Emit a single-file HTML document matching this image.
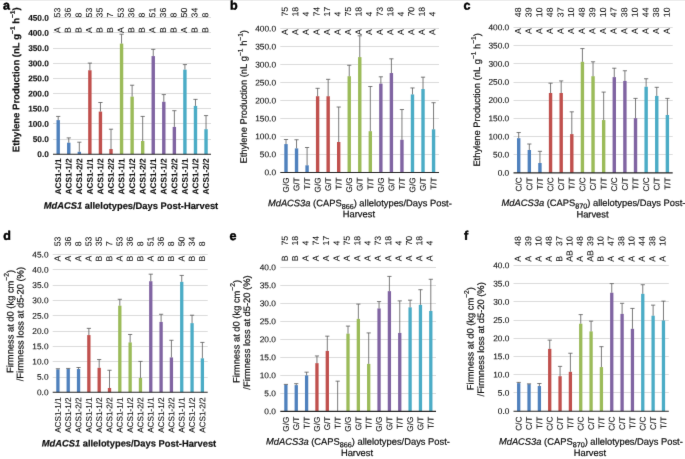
<!DOCTYPE html>
<html><head><meta charset="utf-8"><style>
html,body{margin:0;padding:0;background:#fff;}
svg{display:block;}
text{font-family:"Liberation Sans",sans-serif;font-kerning:none;text-rendering:geometricPrecision;white-space:pre;}
</style></head><body>
<svg width="685" height="459" viewBox="0 0 685 459">

<filter id="bl" x="0" y="0" width="1" height="1" color-interpolation-filters="sRGB"><feConvolveMatrix order="3" kernelMatrix="0.0052 0.0619 0.0052 0.0619 0.7314 0.0619 0.0052 0.0619 0.0052" edgeMode="duplicate" preserveAlpha="true"/></filter>
<g filter="url(#bl)">
<rect width="685" height="459" fill="#fff"/>
<line x1="53" y1="139.5" x2="211" y2="139.5" stroke="#dcdcdc" stroke-width="1"/>
<line x1="53" y1="123.5" x2="211" y2="123.5" stroke="#dcdcdc" stroke-width="1"/>
<line x1="53" y1="108.5" x2="211" y2="108.5" stroke="#dcdcdc" stroke-width="1"/>
<line x1="53" y1="93.5" x2="211" y2="93.5" stroke="#dcdcdc" stroke-width="1"/>
<line x1="53" y1="78.5" x2="211" y2="78.5" stroke="#dcdcdc" stroke-width="1"/>
<line x1="53" y1="63.5" x2="211" y2="63.5" stroke="#dcdcdc" stroke-width="1"/>
<line x1="53" y1="48.5" x2="211" y2="48.5" stroke="#dcdcdc" stroke-width="1"/>
<line x1="53" y1="32.5" x2="211" y2="32.5" stroke="#dcdcdc" stroke-width="1"/>
<line x1="53" y1="17.5" x2="211" y2="17.5" stroke="#dcdcdc" stroke-width="1"/>
<rect x="56.5" y="120.11" width="3.4" height="34.09" fill="#4F81BD"/>
<line x1="58.2" y1="120.11" x2="58.2" y2="116.42" stroke="#5a5a5a" stroke-width="0.8"/>
<line x1="56.1" y1="116.42" x2="60.3" y2="116.42" stroke="#5a5a5a" stroke-width="0.8"/>
<rect x="67.06" y="142.69" width="3.4" height="11.51" fill="#4F81BD"/>
<line x1="68.76" y1="142.69" x2="68.76" y2="137.9" stroke="#5a5a5a" stroke-width="0.8"/>
<line x1="66.66" y1="137.9" x2="70.86" y2="137.9" stroke="#5a5a5a" stroke-width="0.8"/>
<rect x="77.62" y="151.78" width="3.4" height="2.42" fill="#4F81BD"/>
<line x1="79.32" y1="151.78" x2="79.32" y2="142.2" stroke="#5a5a5a" stroke-width="0.8"/>
<line x1="77.22" y1="142.2" x2="81.42" y2="142.2" stroke="#5a5a5a" stroke-width="0.8"/>
<rect x="88.18" y="70.27" width="3.4" height="83.93" fill="#C0504D"/>
<line x1="89.88" y1="70.27" x2="89.88" y2="63.09" stroke="#5a5a5a" stroke-width="0.8"/>
<line x1="87.78" y1="63.09" x2="91.98" y2="63.09" stroke="#5a5a5a" stroke-width="0.8"/>
<rect x="98.74" y="111.6" width="3.4" height="42.6" fill="#C0504D"/>
<line x1="100.44" y1="111.6" x2="100.44" y2="102.51" stroke="#5a5a5a" stroke-width="0.8"/>
<line x1="98.34" y1="102.51" x2="102.54" y2="102.51" stroke="#5a5a5a" stroke-width="0.8"/>
<rect x="109.3" y="149.05" width="3.4" height="5.15" fill="#C0504D"/>
<line x1="111" y1="149.05" x2="111" y2="129.2" stroke="#5a5a5a" stroke-width="0.8"/>
<line x1="108.9" y1="129.2" x2="113.1" y2="129.2" stroke="#5a5a5a" stroke-width="0.8"/>
<rect x="119.86" y="43.6" width="3.4" height="110.59" fill="#9BBB59"/>
<line x1="121.56" y1="43.6" x2="121.56" y2="34.21" stroke="#5a5a5a" stroke-width="0.8"/>
<line x1="119.46" y1="34.21" x2="123.66" y2="34.21" stroke="#5a5a5a" stroke-width="0.8"/>
<rect x="130.42" y="96.63" width="3.4" height="57.57" fill="#9BBB59"/>
<line x1="132.12" y1="96.63" x2="132.12" y2="85.21" stroke="#5a5a5a" stroke-width="0.8"/>
<line x1="130.02" y1="85.21" x2="134.22" y2="85.21" stroke="#5a5a5a" stroke-width="0.8"/>
<rect x="140.98" y="140.99" width="3.4" height="13.21" fill="#9BBB59"/>
<line x1="142.68" y1="140.99" x2="142.68" y2="116.42" stroke="#5a5a5a" stroke-width="0.8"/>
<line x1="140.58" y1="116.42" x2="144.78" y2="116.42" stroke="#5a5a5a" stroke-width="0.8"/>
<rect x="151.54" y="56.09" width="3.4" height="98.11" fill="#8064A2"/>
<line x1="153.24" y1="56.09" x2="153.24" y2="49.36" stroke="#5a5a5a" stroke-width="0.8"/>
<line x1="151.14" y1="49.36" x2="155.34" y2="49.36" stroke="#5a5a5a" stroke-width="0.8"/>
<rect x="162.1" y="101.78" width="3.4" height="52.42" fill="#8064A2"/>
<line x1="163.8" y1="101.78" x2="163.8" y2="94.6" stroke="#5a5a5a" stroke-width="0.8"/>
<line x1="161.7" y1="94.6" x2="165.9" y2="94.6" stroke="#5a5a5a" stroke-width="0.8"/>
<rect x="172.66" y="126.93" width="3.4" height="27.27" fill="#8064A2"/>
<line x1="174.36" y1="126.93" x2="174.36" y2="110.69" stroke="#5a5a5a" stroke-width="0.8"/>
<line x1="172.26" y1="110.69" x2="176.46" y2="110.69" stroke="#5a5a5a" stroke-width="0.8"/>
<rect x="183.22" y="69.66" width="3.4" height="84.54" fill="#4BACC6"/>
<line x1="184.92" y1="69.66" x2="184.92" y2="64.6" stroke="#5a5a5a" stroke-width="0.8"/>
<line x1="182.82" y1="64.6" x2="187.02" y2="64.6" stroke="#5a5a5a" stroke-width="0.8"/>
<rect x="193.78" y="105.9" width="3.4" height="48.3" fill="#4BACC6"/>
<line x1="195.48" y1="105.9" x2="195.48" y2="99.36" stroke="#5a5a5a" stroke-width="0.8"/>
<line x1="193.38" y1="99.36" x2="197.58" y2="99.36" stroke="#5a5a5a" stroke-width="0.8"/>
<rect x="204.34" y="129.2" width="3.4" height="25" fill="#4BACC6"/>
<line x1="206.04" y1="129.2" x2="206.04" y2="115.6" stroke="#5a5a5a" stroke-width="0.8"/>
<line x1="203.94" y1="115.6" x2="208.14" y2="115.6" stroke="#5a5a5a" stroke-width="0.8"/>
<line x1="53" y1="154.2" x2="211" y2="154.2" stroke="#262626" stroke-width="1.1"/>
<text transform="translate(48.90,157.06) rotate(0.05)" x="-11.54" font-size="8.3" font-weight="bold" fill="#111111" stroke="#111111" stroke-width="0.1" stroke-linejoin="round">0.0</text>
<text transform="translate(48.90,141.91) rotate(0.05)" x="-16.15" font-size="8.3" font-weight="bold" fill="#111111" stroke="#111111" stroke-width="0.1" stroke-linejoin="round">50.0</text>
<text transform="translate(48.90,126.76) rotate(0.05)" x="-20.77" font-size="8.3" font-weight="bold" fill="#111111" stroke="#111111" stroke-width="0.1" stroke-linejoin="round">100.0</text>
<text transform="translate(48.90,111.61) rotate(0.05)" x="-20.77" font-size="8.3" font-weight="bold" fill="#111111" stroke="#111111" stroke-width="0.1" stroke-linejoin="round">150.0</text>
<text transform="translate(48.90,96.46) rotate(0.05)" x="-20.77" font-size="8.3" font-weight="bold" fill="#111111" stroke="#111111" stroke-width="0.1" stroke-linejoin="round">200.0</text>
<text transform="translate(48.90,81.31) rotate(0.05)" x="-20.77" font-size="8.3" font-weight="bold" fill="#111111" stroke="#111111" stroke-width="0.1" stroke-linejoin="round">250.0</text>
<text transform="translate(48.90,66.16) rotate(0.05)" x="-20.77" font-size="8.3" font-weight="bold" fill="#111111" stroke="#111111" stroke-width="0.1" stroke-linejoin="round">300.0</text>
<text transform="translate(48.90,51.01) rotate(0.05)" x="-20.77" font-size="8.3" font-weight="bold" fill="#111111" stroke="#111111" stroke-width="0.1" stroke-linejoin="round">350.0</text>
<text transform="translate(48.90,35.86) rotate(0.05)" x="-20.77" font-size="8.3" font-weight="bold" fill="#111111" stroke="#111111" stroke-width="0.1" stroke-linejoin="round">400.0</text>
<text transform="translate(48.90,20.71) rotate(0.05)" x="-20.77" font-size="8.3" font-weight="bold" fill="#111111" stroke="#111111" stroke-width="0.1" stroke-linejoin="round">450.0</text>
<text transform="translate(60.29,17.40) rotate(-89.95)" x="0.00" font-size="8.7" fill="#111111" stroke="#111111" stroke-width="0.08" stroke-linejoin="round">53</text>
<text transform="translate(60.29,32.90) rotate(-89.95)" x="0.00" font-size="8.7" fill="#111111" stroke="#111111" stroke-width="0.08" stroke-linejoin="round">A</text>
<text transform="translate(70.85,17.40) rotate(-89.95)" x="0.00" font-size="8.7" fill="#111111" stroke="#111111" stroke-width="0.08" stroke-linejoin="round">36</text>
<text transform="translate(70.85,32.90) rotate(-89.95)" x="0.00" font-size="8.7" fill="#111111" stroke="#111111" stroke-width="0.08" stroke-linejoin="round">B</text>
<text transform="translate(81.41,17.40) rotate(-89.95)" x="0.00" font-size="8.7" fill="#111111" stroke="#111111" stroke-width="0.08" stroke-linejoin="round">8</text>
<text transform="translate(81.41,32.90) rotate(-89.95)" x="0.00" font-size="8.7" fill="#111111" stroke="#111111" stroke-width="0.08" stroke-linejoin="round">B</text>
<text transform="translate(91.97,17.40) rotate(-89.95)" x="0.00" font-size="8.7" fill="#111111" stroke="#111111" stroke-width="0.08" stroke-linejoin="round">53</text>
<text transform="translate(91.97,32.90) rotate(-89.95)" x="0.00" font-size="8.7" fill="#111111" stroke="#111111" stroke-width="0.08" stroke-linejoin="round">A</text>
<text transform="translate(102.53,17.40) rotate(-89.95)" x="0.00" font-size="8.7" fill="#111111" stroke="#111111" stroke-width="0.08" stroke-linejoin="round">35</text>
<text transform="translate(102.53,32.90) rotate(-89.95)" x="0.00" font-size="8.7" fill="#111111" stroke="#111111" stroke-width="0.08" stroke-linejoin="round">B</text>
<text transform="translate(113.09,17.40) rotate(-89.95)" x="0.00" font-size="8.7" fill="#111111" stroke="#111111" stroke-width="0.08" stroke-linejoin="round">7</text>
<text transform="translate(113.09,32.90) rotate(-89.95)" x="0.00" font-size="8.7" fill="#111111" stroke="#111111" stroke-width="0.08" stroke-linejoin="round">B</text>
<text transform="translate(123.65,17.40) rotate(-89.95)" x="0.00" font-size="8.7" fill="#111111" stroke="#111111" stroke-width="0.08" stroke-linejoin="round">53</text>
<text transform="translate(123.65,32.90) rotate(-89.95)" x="0.00" font-size="8.7" fill="#111111" stroke="#111111" stroke-width="0.08" stroke-linejoin="round">A</text>
<text transform="translate(134.21,17.40) rotate(-89.95)" x="0.00" font-size="8.7" fill="#111111" stroke="#111111" stroke-width="0.08" stroke-linejoin="round">36</text>
<text transform="translate(134.21,32.90) rotate(-89.95)" x="0.00" font-size="8.7" fill="#111111" stroke="#111111" stroke-width="0.08" stroke-linejoin="round">B</text>
<text transform="translate(144.77,17.40) rotate(-89.95)" x="0.00" font-size="8.7" fill="#111111" stroke="#111111" stroke-width="0.08" stroke-linejoin="round">8</text>
<text transform="translate(144.77,32.90) rotate(-89.95)" x="0.00" font-size="8.7" fill="#111111" stroke="#111111" stroke-width="0.08" stroke-linejoin="round">B</text>
<text transform="translate(155.33,17.40) rotate(-89.95)" x="0.00" font-size="8.7" fill="#111111" stroke="#111111" stroke-width="0.08" stroke-linejoin="round">51</text>
<text transform="translate(155.33,32.90) rotate(-89.95)" x="0.00" font-size="8.7" fill="#111111" stroke="#111111" stroke-width="0.08" stroke-linejoin="round">A</text>
<text transform="translate(165.89,17.40) rotate(-89.95)" x="0.00" font-size="8.7" fill="#111111" stroke="#111111" stroke-width="0.08" stroke-linejoin="round">36</text>
<text transform="translate(165.89,32.90) rotate(-89.95)" x="0.00" font-size="8.7" fill="#111111" stroke="#111111" stroke-width="0.08" stroke-linejoin="round">B</text>
<text transform="translate(176.45,17.40) rotate(-89.95)" x="0.00" font-size="8.7" fill="#111111" stroke="#111111" stroke-width="0.08" stroke-linejoin="round">8</text>
<text transform="translate(176.45,32.90) rotate(-89.95)" x="0.00" font-size="8.7" fill="#111111" stroke="#111111" stroke-width="0.08" stroke-linejoin="round">B</text>
<text transform="translate(187.01,17.40) rotate(-89.95)" x="0.00" font-size="8.7" fill="#111111" stroke="#111111" stroke-width="0.08" stroke-linejoin="round">50</text>
<text transform="translate(187.01,32.90) rotate(-89.95)" x="0.00" font-size="8.7" fill="#111111" stroke="#111111" stroke-width="0.08" stroke-linejoin="round">A</text>
<text transform="translate(197.57,17.40) rotate(-89.95)" x="0.00" font-size="8.7" fill="#111111" stroke="#111111" stroke-width="0.08" stroke-linejoin="round">34</text>
<text transform="translate(197.57,32.90) rotate(-89.95)" x="0.00" font-size="8.7" fill="#111111" stroke="#111111" stroke-width="0.08" stroke-linejoin="round">B</text>
<text transform="translate(208.13,17.40) rotate(-89.95)" x="0.00" font-size="8.7" fill="#111111" stroke="#111111" stroke-width="0.08" stroke-linejoin="round">8</text>
<text transform="translate(208.13,32.90) rotate(-89.95)" x="0.00" font-size="8.7" fill="#111111" stroke="#111111" stroke-width="0.08" stroke-linejoin="round">B</text>
<text transform="translate(61.02,158.40) rotate(-89.95)" x="-36.00" font-size="8.2" font-weight="bold" fill="#111111" stroke="#111111" stroke-width="0.1" stroke-linejoin="round">ACS1-1/1</text>
<text transform="translate(71.58,158.40) rotate(-89.95)" x="-36.00" font-size="8.2" font-weight="bold" fill="#111111" stroke="#111111" stroke-width="0.1" stroke-linejoin="round">ACS1-1/2</text>
<text transform="translate(82.14,158.40) rotate(-89.95)" x="-36.00" font-size="8.2" font-weight="bold" fill="#111111" stroke="#111111" stroke-width="0.1" stroke-linejoin="round">ACS1-2/2</text>
<text transform="translate(92.70,158.40) rotate(-89.95)" x="-36.00" font-size="8.2" font-weight="bold" fill="#111111" stroke="#111111" stroke-width="0.1" stroke-linejoin="round">ACS1-1/1</text>
<text transform="translate(103.26,158.40) rotate(-89.95)" x="-36.00" font-size="8.2" font-weight="bold" fill="#111111" stroke="#111111" stroke-width="0.1" stroke-linejoin="round">ACS1-1/2</text>
<text transform="translate(113.82,158.40) rotate(-89.95)" x="-36.00" font-size="8.2" font-weight="bold" fill="#111111" stroke="#111111" stroke-width="0.1" stroke-linejoin="round">ACS1-2/2</text>
<text transform="translate(124.38,158.40) rotate(-89.95)" x="-36.00" font-size="8.2" font-weight="bold" fill="#111111" stroke="#111111" stroke-width="0.1" stroke-linejoin="round">ACS1-1/1</text>
<text transform="translate(134.94,158.40) rotate(-89.95)" x="-36.00" font-size="8.2" font-weight="bold" fill="#111111" stroke="#111111" stroke-width="0.1" stroke-linejoin="round">ACS1-1/2</text>
<text transform="translate(145.50,158.40) rotate(-89.95)" x="-36.00" font-size="8.2" font-weight="bold" fill="#111111" stroke="#111111" stroke-width="0.1" stroke-linejoin="round">ACS1-2/2</text>
<text transform="translate(156.06,158.40) rotate(-89.95)" x="-36.00" font-size="8.2" font-weight="bold" fill="#111111" stroke="#111111" stroke-width="0.1" stroke-linejoin="round">ACS1-1/1</text>
<text transform="translate(166.62,158.40) rotate(-89.95)" x="-36.00" font-size="8.2" font-weight="bold" fill="#111111" stroke="#111111" stroke-width="0.1" stroke-linejoin="round">ACS1-1/2</text>
<text transform="translate(177.18,158.40) rotate(-89.95)" x="-36.00" font-size="8.2" font-weight="bold" fill="#111111" stroke="#111111" stroke-width="0.1" stroke-linejoin="round">ACS1-2/2</text>
<text transform="translate(187.74,158.40) rotate(-89.95)" x="-36.00" font-size="8.2" font-weight="bold" fill="#111111" stroke="#111111" stroke-width="0.1" stroke-linejoin="round">ACS1-1/1</text>
<text transform="translate(198.30,158.40) rotate(-89.95)" x="-36.00" font-size="8.2" font-weight="bold" fill="#111111" stroke="#111111" stroke-width="0.1" stroke-linejoin="round">ACS1-1/2</text>
<text transform="translate(208.86,158.40) rotate(-89.95)" x="-36.00" font-size="8.2" font-weight="bold" fill="#111111" stroke="#111111" stroke-width="0.1" stroke-linejoin="round">ACS1-2/2</text>
<text transform="translate(19.20,79.75) rotate(-89.95)" x="-72.44" font-size="9.5" font-weight="bold" fill="#111111" stroke="#111111" stroke-width="0.2" stroke-linejoin="round">Ethylene Production (nL g<tspan font-size="6.6" dy="-4.40">−1</tspan><tspan dy="4.40"> h</tspan><tspan font-size="6.6" dy="-4.40">−1</tspan><tspan dy="4.40">)</tspan></text>
<text transform="translate(131.00,208.90) rotate(0.05)" x="-87.30" font-size="9.35" font-weight="bold" font-style="italic" fill="#111111" stroke="#111111" stroke-width="0.2" stroke-linejoin="round">MdACS1<tspan font-style="normal"> allelotypes/Days Post-Harvest</tspan></text>
<text transform="translate(3.00,9.40) rotate(0.05)" x="0.00" font-size="12.5" font-weight="bold" fill="#000" stroke="#000" stroke-width="0.5" stroke-linejoin="round">a</text>
<line x1="280.3" y1="154.5" x2="439" y2="154.5" stroke="#dcdcdc" stroke-width="1"/>
<line x1="280.3" y1="136.5" x2="439" y2="136.5" stroke="#dcdcdc" stroke-width="1"/>
<line x1="280.3" y1="118.5" x2="439" y2="118.5" stroke="#dcdcdc" stroke-width="1"/>
<line x1="280.3" y1="100.5" x2="439" y2="100.5" stroke="#dcdcdc" stroke-width="1"/>
<line x1="280.3" y1="82.5" x2="439" y2="82.5" stroke="#dcdcdc" stroke-width="1"/>
<line x1="280.3" y1="64.5" x2="439" y2="64.5" stroke="#dcdcdc" stroke-width="1"/>
<line x1="280.3" y1="46.5" x2="439" y2="46.5" stroke="#dcdcdc" stroke-width="1"/>
<line x1="280.3" y1="28.5" x2="439" y2="28.5" stroke="#dcdcdc" stroke-width="1"/>
<rect x="284.3" y="144.08" width="3.4" height="28.42" fill="#4F81BD"/>
<line x1="286" y1="144.08" x2="286" y2="139.51" stroke="#5a5a5a" stroke-width="0.8"/>
<line x1="283.9" y1="139.51" x2="288.1" y2="139.51" stroke="#5a5a5a" stroke-width="0.8"/>
<rect x="294.84" y="148.4" width="3.4" height="24.1" fill="#4F81BD"/>
<line x1="296.54" y1="148.4" x2="296.54" y2="139.76" stroke="#5a5a5a" stroke-width="0.8"/>
<line x1="294.44" y1="139.76" x2="298.64" y2="139.76" stroke="#5a5a5a" stroke-width="0.8"/>
<rect x="305.38" y="165.31" width="3.4" height="7.19" fill="#4F81BD"/>
<line x1="307.08" y1="165.31" x2="307.08" y2="147.5" stroke="#5a5a5a" stroke-width="0.8"/>
<line x1="304.98" y1="147.5" x2="309.18" y2="147.5" stroke="#5a5a5a" stroke-width="0.8"/>
<rect x="315.92" y="96.23" width="3.4" height="76.27" fill="#C0504D"/>
<line x1="317.62" y1="96.23" x2="317.62" y2="88.32" stroke="#5a5a5a" stroke-width="0.8"/>
<line x1="315.52" y1="88.32" x2="319.72" y2="88.32" stroke="#5a5a5a" stroke-width="0.8"/>
<rect x="326.46" y="96.23" width="3.4" height="76.27" fill="#C0504D"/>
<line x1="328.16" y1="96.23" x2="328.16" y2="79.32" stroke="#5a5a5a" stroke-width="0.8"/>
<line x1="326.06" y1="79.32" x2="330.26" y2="79.32" stroke="#5a5a5a" stroke-width="0.8"/>
<rect x="337" y="141.99" width="3.4" height="30.51" fill="#C0504D"/>
<line x1="338.7" y1="141.99" x2="338.7" y2="107.03" stroke="#5a5a5a" stroke-width="0.8"/>
<line x1="336.6" y1="107.03" x2="340.8" y2="107.03" stroke="#5a5a5a" stroke-width="0.8"/>
<rect x="347.54" y="76.23" width="3.4" height="96.27" fill="#9BBB59"/>
<line x1="349.24" y1="76.23" x2="349.24" y2="65.29" stroke="#5a5a5a" stroke-width="0.8"/>
<line x1="347.14" y1="65.29" x2="351.34" y2="65.29" stroke="#5a5a5a" stroke-width="0.8"/>
<rect x="358.08" y="57.13" width="3.4" height="115.37" fill="#9BBB59"/>
<line x1="359.78" y1="57.13" x2="359.78" y2="35.79" stroke="#5a5a5a" stroke-width="0.8"/>
<line x1="357.68" y1="35.79" x2="361.88" y2="35.79" stroke="#5a5a5a" stroke-width="0.8"/>
<rect x="368.62" y="131.2" width="3.4" height="41.3" fill="#9BBB59"/>
<line x1="370.32" y1="131.2" x2="370.32" y2="86.52" stroke="#5a5a5a" stroke-width="0.8"/>
<line x1="368.22" y1="86.52" x2="372.42" y2="86.52" stroke="#5a5a5a" stroke-width="0.8"/>
<rect x="379.16" y="83.64" width="3.4" height="88.86" fill="#8064A2"/>
<line x1="380.86" y1="83.64" x2="380.86" y2="76.81" stroke="#5a5a5a" stroke-width="0.8"/>
<line x1="378.76" y1="76.81" x2="382.96" y2="76.81" stroke="#5a5a5a" stroke-width="0.8"/>
<rect x="389.7" y="73.03" width="3.4" height="99.47" fill="#8064A2"/>
<line x1="391.4" y1="73.03" x2="391.4" y2="58.82" stroke="#5a5a5a" stroke-width="0.8"/>
<line x1="389.3" y1="58.82" x2="393.5" y2="58.82" stroke="#5a5a5a" stroke-width="0.8"/>
<rect x="400.24" y="139.76" width="3.4" height="32.74" fill="#8064A2"/>
<line x1="401.94" y1="139.76" x2="401.94" y2="109.54" stroke="#5a5a5a" stroke-width="0.8"/>
<line x1="399.84" y1="109.54" x2="404.04" y2="109.54" stroke="#5a5a5a" stroke-width="0.8"/>
<rect x="410.78" y="94.43" width="3.4" height="78.07" fill="#4BACC6"/>
<line x1="412.48" y1="94.43" x2="412.48" y2="87.96" stroke="#5a5a5a" stroke-width="0.8"/>
<line x1="410.38" y1="87.96" x2="414.58" y2="87.96" stroke="#5a5a5a" stroke-width="0.8"/>
<rect x="421.32" y="89.04" width="3.4" height="83.46" fill="#4BACC6"/>
<line x1="423.02" y1="89.04" x2="423.02" y2="77.17" stroke="#5a5a5a" stroke-width="0.8"/>
<line x1="420.92" y1="77.17" x2="425.12" y2="77.17" stroke="#5a5a5a" stroke-width="0.8"/>
<rect x="431.86" y="129.33" width="3.4" height="43.17" fill="#4BACC6"/>
<line x1="433.56" y1="129.33" x2="433.56" y2="102.71" stroke="#5a5a5a" stroke-width="0.8"/>
<line x1="431.46" y1="102.71" x2="435.66" y2="102.71" stroke="#5a5a5a" stroke-width="0.8"/>
<line x1="280.3" y1="172.5" x2="439" y2="172.5" stroke="#262626" stroke-width="1.1"/>
<text transform="translate(276.00,175.36) rotate(0.05)" x="-11.54" font-size="8.3" fill="#111111" stroke="#111111" stroke-width="0.12" stroke-linejoin="round">0.0</text>
<text transform="translate(276.00,157.37) rotate(0.05)" x="-16.15" font-size="8.3" fill="#111111" stroke="#111111" stroke-width="0.12" stroke-linejoin="round">50.0</text>
<text transform="translate(276.00,139.38) rotate(0.05)" x="-20.77" font-size="8.3" fill="#111111" stroke="#111111" stroke-width="0.12" stroke-linejoin="round">100.0</text>
<text transform="translate(276.00,121.39) rotate(0.05)" x="-20.77" font-size="8.3" fill="#111111" stroke="#111111" stroke-width="0.12" stroke-linejoin="round">150.0</text>
<text transform="translate(276.00,103.41) rotate(0.05)" x="-20.77" font-size="8.3" fill="#111111" stroke="#111111" stroke-width="0.12" stroke-linejoin="round">200.0</text>
<text transform="translate(276.00,85.42) rotate(0.05)" x="-20.77" font-size="8.3" fill="#111111" stroke="#111111" stroke-width="0.12" stroke-linejoin="round">250.0</text>
<text transform="translate(276.00,67.43) rotate(0.05)" x="-20.77" font-size="8.3" fill="#111111" stroke="#111111" stroke-width="0.12" stroke-linejoin="round">300.0</text>
<text transform="translate(276.00,49.44) rotate(0.05)" x="-20.77" font-size="8.3" fill="#111111" stroke="#111111" stroke-width="0.12" stroke-linejoin="round">350.0</text>
<text transform="translate(276.00,31.46) rotate(0.05)" x="-20.77" font-size="8.3" fill="#111111" stroke="#111111" stroke-width="0.12" stroke-linejoin="round">400.0</text>
<text transform="translate(287.79,16.60) rotate(-89.95)" x="0.00" font-size="8.7" fill="#111111" stroke="#111111" stroke-width="0.08" stroke-linejoin="round">75</text>
<text transform="translate(287.79,34.90) rotate(-89.95)" x="0.00" font-size="8.7" fill="#111111" stroke="#111111" stroke-width="0.08" stroke-linejoin="round">A</text>
<text transform="translate(298.33,16.60) rotate(-89.95)" x="0.00" font-size="8.7" fill="#111111" stroke="#111111" stroke-width="0.08" stroke-linejoin="round">18</text>
<text transform="translate(298.33,34.90) rotate(-89.95)" x="0.00" font-size="8.7" fill="#111111" stroke="#111111" stroke-width="0.08" stroke-linejoin="round">A</text>
<text transform="translate(308.87,16.60) rotate(-89.95)" x="0.00" font-size="8.7" fill="#111111" stroke="#111111" stroke-width="0.08" stroke-linejoin="round">4</text>
<text transform="translate(308.87,34.90) rotate(-89.95)" x="0.00" font-size="8.7" fill="#111111" stroke="#111111" stroke-width="0.08" stroke-linejoin="round">A</text>
<text transform="translate(319.41,16.60) rotate(-89.95)" x="0.00" font-size="8.7" fill="#111111" stroke="#111111" stroke-width="0.08" stroke-linejoin="round">74</text>
<text transform="translate(319.41,34.90) rotate(-89.95)" x="0.00" font-size="8.7" fill="#111111" stroke="#111111" stroke-width="0.08" stroke-linejoin="round">A</text>
<text transform="translate(329.95,16.60) rotate(-89.95)" x="0.00" font-size="8.7" fill="#111111" stroke="#111111" stroke-width="0.08" stroke-linejoin="round">17</text>
<text transform="translate(329.95,34.90) rotate(-89.95)" x="0.00" font-size="8.7" fill="#111111" stroke="#111111" stroke-width="0.08" stroke-linejoin="round">A</text>
<text transform="translate(340.49,16.60) rotate(-89.95)" x="0.00" font-size="8.7" fill="#111111" stroke="#111111" stroke-width="0.08" stroke-linejoin="round">4</text>
<text transform="translate(340.49,34.90) rotate(-89.95)" x="0.00" font-size="8.7" fill="#111111" stroke="#111111" stroke-width="0.08" stroke-linejoin="round">A</text>
<text transform="translate(351.03,16.60) rotate(-89.95)" x="0.00" font-size="8.7" fill="#111111" stroke="#111111" stroke-width="0.08" stroke-linejoin="round">75</text>
<text transform="translate(351.03,34.90) rotate(-89.95)" x="0.00" font-size="8.7" fill="#111111" stroke="#111111" stroke-width="0.08" stroke-linejoin="round">A</text>
<text transform="translate(361.57,16.60) rotate(-89.95)" x="0.00" font-size="8.7" fill="#111111" stroke="#111111" stroke-width="0.08" stroke-linejoin="round">18</text>
<text transform="translate(361.57,34.90) rotate(-89.95)" x="0.00" font-size="8.7" fill="#111111" stroke="#111111" stroke-width="0.08" stroke-linejoin="round">A</text>
<text transform="translate(372.11,16.60) rotate(-89.95)" x="0.00" font-size="8.7" fill="#111111" stroke="#111111" stroke-width="0.08" stroke-linejoin="round">4</text>
<text transform="translate(372.11,34.90) rotate(-89.95)" x="0.00" font-size="8.7" fill="#111111" stroke="#111111" stroke-width="0.08" stroke-linejoin="round">A</text>
<text transform="translate(382.65,16.60) rotate(-89.95)" x="0.00" font-size="8.7" fill="#111111" stroke="#111111" stroke-width="0.08" stroke-linejoin="round">73</text>
<text transform="translate(382.65,34.90) rotate(-89.95)" x="0.00" font-size="8.7" fill="#111111" stroke="#111111" stroke-width="0.08" stroke-linejoin="round">A</text>
<text transform="translate(393.19,16.60) rotate(-89.95)" x="0.00" font-size="8.7" fill="#111111" stroke="#111111" stroke-width="0.08" stroke-linejoin="round">18</text>
<text transform="translate(393.19,34.90) rotate(-89.95)" x="0.00" font-size="8.7" fill="#111111" stroke="#111111" stroke-width="0.08" stroke-linejoin="round">A</text>
<text transform="translate(403.73,16.60) rotate(-89.95)" x="0.00" font-size="8.7" fill="#111111" stroke="#111111" stroke-width="0.08" stroke-linejoin="round">4</text>
<text transform="translate(403.73,34.90) rotate(-89.95)" x="0.00" font-size="8.7" fill="#111111" stroke="#111111" stroke-width="0.08" stroke-linejoin="round">A</text>
<text transform="translate(414.27,16.60) rotate(-89.95)" x="0.00" font-size="8.7" fill="#111111" stroke="#111111" stroke-width="0.08" stroke-linejoin="round">70</text>
<text transform="translate(414.27,34.90) rotate(-89.95)" x="0.00" font-size="8.7" fill="#111111" stroke="#111111" stroke-width="0.08" stroke-linejoin="round">A</text>
<text transform="translate(424.81,16.60) rotate(-89.95)" x="0.00" font-size="8.7" fill="#111111" stroke="#111111" stroke-width="0.08" stroke-linejoin="round">18</text>
<text transform="translate(424.81,34.90) rotate(-89.95)" x="0.00" font-size="8.7" fill="#111111" stroke="#111111" stroke-width="0.08" stroke-linejoin="round">A</text>
<text transform="translate(435.35,16.60) rotate(-89.95)" x="0.00" font-size="8.7" fill="#111111" stroke="#111111" stroke-width="0.08" stroke-linejoin="round">4</text>
<text transform="translate(435.35,34.90) rotate(-89.95)" x="0.00" font-size="8.7" fill="#111111" stroke="#111111" stroke-width="0.08" stroke-linejoin="round">A</text>
<text transform="translate(288.82,177.40) rotate(-89.95)" x="-15.03" font-size="8.2" fill="#111111" stroke="#111111" stroke-width="0.12" stroke-linejoin="round">G/G</text>
<text transform="translate(299.36,177.40) rotate(-89.95)" x="-13.67" font-size="8.2" fill="#111111" stroke="#111111" stroke-width="0.12" stroke-linejoin="round">G/T</text>
<text transform="translate(309.90,177.40) rotate(-89.95)" x="-12.30" font-size="8.2" fill="#111111" stroke="#111111" stroke-width="0.12" stroke-linejoin="round">T/T</text>
<text transform="translate(320.44,177.40) rotate(-89.95)" x="-15.03" font-size="8.2" fill="#111111" stroke="#111111" stroke-width="0.12" stroke-linejoin="round">G/G</text>
<text transform="translate(330.98,177.40) rotate(-89.95)" x="-13.67" font-size="8.2" fill="#111111" stroke="#111111" stroke-width="0.12" stroke-linejoin="round">G/T</text>
<text transform="translate(341.52,177.40) rotate(-89.95)" x="-12.30" font-size="8.2" fill="#111111" stroke="#111111" stroke-width="0.12" stroke-linejoin="round">T/T</text>
<text transform="translate(352.06,177.40) rotate(-89.95)" x="-15.03" font-size="8.2" fill="#111111" stroke="#111111" stroke-width="0.12" stroke-linejoin="round">G/G</text>
<text transform="translate(362.60,177.40) rotate(-89.95)" x="-13.67" font-size="8.2" fill="#111111" stroke="#111111" stroke-width="0.12" stroke-linejoin="round">G/T</text>
<text transform="translate(373.14,177.40) rotate(-89.95)" x="-12.30" font-size="8.2" fill="#111111" stroke="#111111" stroke-width="0.12" stroke-linejoin="round">T/T</text>
<text transform="translate(383.68,177.40) rotate(-89.95)" x="-15.03" font-size="8.2" fill="#111111" stroke="#111111" stroke-width="0.12" stroke-linejoin="round">G/G</text>
<text transform="translate(394.22,177.40) rotate(-89.95)" x="-13.67" font-size="8.2" fill="#111111" stroke="#111111" stroke-width="0.12" stroke-linejoin="round">G/T</text>
<text transform="translate(404.76,177.40) rotate(-89.95)" x="-12.30" font-size="8.2" fill="#111111" stroke="#111111" stroke-width="0.12" stroke-linejoin="round">T/T</text>
<text transform="translate(415.30,177.40) rotate(-89.95)" x="-15.03" font-size="8.2" fill="#111111" stroke="#111111" stroke-width="0.12" stroke-linejoin="round">G/G</text>
<text transform="translate(425.84,177.40) rotate(-89.95)" x="-13.67" font-size="8.2" fill="#111111" stroke="#111111" stroke-width="0.12" stroke-linejoin="round">G/T</text>
<text transform="translate(436.38,177.40) rotate(-89.95)" x="-12.30" font-size="8.2" fill="#111111" stroke="#111111" stroke-width="0.12" stroke-linejoin="round">T/T</text>
<text transform="translate(246.80,96.75) rotate(-89.95)" x="-66.78" font-size="9.35" fill="#111111" stroke="#111111" stroke-width="0.22" stroke-linejoin="round">Ethylene Production (nL g<tspan font-size="6.6" dy="-4.40">−1</tspan><tspan dy="4.40"> h</tspan><tspan font-size="6.6" dy="-4.40">−1</tspan><tspan dy="4.40">)</tspan></text>
<text transform="translate(359.90,206.30) rotate(0.05)" x="-92.01" font-size="9.35" font-style="italic" fill="#111111" stroke="#111111" stroke-width="0.22" stroke-linejoin="round">MdACS3a<tspan font-style="normal"> (CAPS</tspan><tspan font-size="7.2" font-style="normal" dy="2.60">866</tspan><tspan font-style="normal" dy="-2.60">) allelotypes/Days Post-</tspan></text>
<text transform="translate(358.90,217.30) rotate(0.05)" x="-16.11" font-size="9.35" fill="#111111" stroke="#111111" stroke-width="0.22" stroke-linejoin="round">Harvest</text>
<text transform="translate(230.00,9.60) rotate(0.05)" x="0.00" font-size="12.5" font-weight="bold" fill="#000" stroke="#000" stroke-width="0.5" stroke-linejoin="round">b</text>
<line x1="513.5" y1="154.5" x2="672.7" y2="154.5" stroke="#dcdcdc" stroke-width="1"/>
<line x1="513.5" y1="136.5" x2="672.7" y2="136.5" stroke="#dcdcdc" stroke-width="1"/>
<line x1="513.5" y1="118.5" x2="672.7" y2="118.5" stroke="#dcdcdc" stroke-width="1"/>
<line x1="513.5" y1="100.5" x2="672.7" y2="100.5" stroke="#dcdcdc" stroke-width="1"/>
<line x1="513.5" y1="82.5" x2="672.7" y2="82.5" stroke="#dcdcdc" stroke-width="1"/>
<line x1="513.5" y1="63.5" x2="672.7" y2="63.5" stroke="#dcdcdc" stroke-width="1"/>
<line x1="513.5" y1="45.5" x2="672.7" y2="45.5" stroke="#dcdcdc" stroke-width="1"/>
<line x1="513.5" y1="27.5" x2="672.7" y2="27.5" stroke="#dcdcdc" stroke-width="1"/>
<rect x="517" y="138.19" width="3.4" height="34.71" fill="#4F81BD"/>
<line x1="518.7" y1="138.19" x2="518.7" y2="132.55" stroke="#5a5a5a" stroke-width="0.8"/>
<line x1="516.6" y1="132.55" x2="520.8" y2="132.55" stroke="#5a5a5a" stroke-width="0.8"/>
<rect x="527.62" y="150" width="3.4" height="22.9" fill="#4F81BD"/>
<line x1="529.32" y1="150" x2="529.32" y2="144" stroke="#5a5a5a" stroke-width="0.8"/>
<line x1="527.22" y1="144" x2="531.42" y2="144" stroke="#5a5a5a" stroke-width="0.8"/>
<rect x="538.24" y="163.01" width="3.4" height="9.89" fill="#4F81BD"/>
<line x1="539.94" y1="163.01" x2="539.94" y2="151.31" stroke="#5a5a5a" stroke-width="0.8"/>
<line x1="537.84" y1="151.31" x2="542.04" y2="151.31" stroke="#5a5a5a" stroke-width="0.8"/>
<rect x="548.86" y="93" width="3.4" height="79.9" fill="#C0504D"/>
<line x1="550.56" y1="93" x2="550.56" y2="83.19" stroke="#5a5a5a" stroke-width="0.8"/>
<line x1="548.46" y1="83.19" x2="552.66" y2="83.19" stroke="#5a5a5a" stroke-width="0.8"/>
<rect x="559.48" y="93" width="3.4" height="79.9" fill="#C0504D"/>
<line x1="561.18" y1="93" x2="561.18" y2="80.93" stroke="#5a5a5a" stroke-width="0.8"/>
<line x1="559.08" y1="80.93" x2="563.28" y2="80.93" stroke="#5a5a5a" stroke-width="0.8"/>
<rect x="570.1" y="134.11" width="3.4" height="38.79" fill="#C0504D"/>
<line x1="571.8" y1="134.11" x2="571.8" y2="111.83" stroke="#5a5a5a" stroke-width="0.8"/>
<line x1="569.7" y1="111.83" x2="573.9" y2="111.83" stroke="#5a5a5a" stroke-width="0.8"/>
<rect x="580.72" y="61.81" width="3.4" height="111.09" fill="#9BBB59"/>
<line x1="582.42" y1="61.81" x2="582.42" y2="48.58" stroke="#5a5a5a" stroke-width="0.8"/>
<line x1="580.32" y1="48.58" x2="584.52" y2="48.58" stroke="#5a5a5a" stroke-width="0.8"/>
<rect x="591.34" y="76.21" width="3.4" height="96.69" fill="#9BBB59"/>
<line x1="593.04" y1="76.21" x2="593.04" y2="61.81" stroke="#5a5a5a" stroke-width="0.8"/>
<line x1="590.94" y1="61.81" x2="595.14" y2="61.81" stroke="#5a5a5a" stroke-width="0.8"/>
<rect x="601.96" y="120.08" width="3.4" height="52.82" fill="#9BBB59"/>
<line x1="603.66" y1="120.08" x2="603.66" y2="92.09" stroke="#5a5a5a" stroke-width="0.8"/>
<line x1="601.56" y1="92.09" x2="605.76" y2="92.09" stroke="#5a5a5a" stroke-width="0.8"/>
<rect x="612.58" y="77.12" width="3.4" height="95.78" fill="#8064A2"/>
<line x1="614.28" y1="77.12" x2="614.28" y2="68.21" stroke="#5a5a5a" stroke-width="0.8"/>
<line x1="612.18" y1="68.21" x2="616.38" y2="68.21" stroke="#5a5a5a" stroke-width="0.8"/>
<rect x="623.2" y="80.93" width="3.4" height="91.97" fill="#8064A2"/>
<line x1="624.9" y1="80.93" x2="624.9" y2="70.76" stroke="#5a5a5a" stroke-width="0.8"/>
<line x1="622.8" y1="70.76" x2="627" y2="70.76" stroke="#5a5a5a" stroke-width="0.8"/>
<rect x="633.82" y="118.19" width="3.4" height="54.71" fill="#8064A2"/>
<line x1="635.52" y1="118.19" x2="635.52" y2="98.38" stroke="#5a5a5a" stroke-width="0.8"/>
<line x1="633.42" y1="98.38" x2="637.62" y2="98.38" stroke="#5a5a5a" stroke-width="0.8"/>
<rect x="644.44" y="86.75" width="3.4" height="86.15" fill="#4BACC6"/>
<line x1="646.14" y1="86.75" x2="646.14" y2="78.75" stroke="#5a5a5a" stroke-width="0.8"/>
<line x1="644.04" y1="78.75" x2="648.24" y2="78.75" stroke="#5a5a5a" stroke-width="0.8"/>
<rect x="655.06" y="95.91" width="3.4" height="76.99" fill="#4BACC6"/>
<line x1="656.76" y1="95.91" x2="656.76" y2="87.3" stroke="#5a5a5a" stroke-width="0.8"/>
<line x1="654.66" y1="87.3" x2="658.86" y2="87.3" stroke="#5a5a5a" stroke-width="0.8"/>
<rect x="665.68" y="114.99" width="3.4" height="57.91" fill="#4BACC6"/>
<line x1="667.38" y1="114.99" x2="667.38" y2="98.38" stroke="#5a5a5a" stroke-width="0.8"/>
<line x1="665.28" y1="98.38" x2="669.48" y2="98.38" stroke="#5a5a5a" stroke-width="0.8"/>
<line x1="513.5" y1="172.9" x2="672.7" y2="172.9" stroke="#262626" stroke-width="1.1"/>
<text transform="translate(509.20,175.76) rotate(0.05)" x="-11.54" font-size="8.3" fill="#111111" stroke="#111111" stroke-width="0.12" stroke-linejoin="round">0.0</text>
<text transform="translate(509.20,157.58) rotate(0.05)" x="-16.15" font-size="8.3" fill="#111111" stroke="#111111" stroke-width="0.12" stroke-linejoin="round">50.0</text>
<text transform="translate(509.20,139.41) rotate(0.05)" x="-20.77" font-size="8.3" fill="#111111" stroke="#111111" stroke-width="0.12" stroke-linejoin="round">100.0</text>
<text transform="translate(509.20,121.23) rotate(0.05)" x="-20.77" font-size="8.3" fill="#111111" stroke="#111111" stroke-width="0.12" stroke-linejoin="round">150.0</text>
<text transform="translate(509.20,103.06) rotate(0.05)" x="-20.77" font-size="8.3" fill="#111111" stroke="#111111" stroke-width="0.12" stroke-linejoin="round">200.0</text>
<text transform="translate(509.20,84.88) rotate(0.05)" x="-20.77" font-size="8.3" fill="#111111" stroke="#111111" stroke-width="0.12" stroke-linejoin="round">250.0</text>
<text transform="translate(509.20,66.71) rotate(0.05)" x="-20.77" font-size="8.3" fill="#111111" stroke="#111111" stroke-width="0.12" stroke-linejoin="round">300.0</text>
<text transform="translate(509.20,48.53) rotate(0.05)" x="-20.77" font-size="8.3" fill="#111111" stroke="#111111" stroke-width="0.12" stroke-linejoin="round">350.0</text>
<text transform="translate(509.20,30.36) rotate(0.05)" x="-20.77" font-size="8.3" fill="#111111" stroke="#111111" stroke-width="0.12" stroke-linejoin="round">400.0</text>
<text transform="translate(520.99,17.20) rotate(-89.95)" x="0.00" font-size="8.7" fill="#111111" stroke="#111111" stroke-width="0.08" stroke-linejoin="round">48</text>
<text transform="translate(520.99,34.10) rotate(-89.95)" x="0.00" font-size="8.7" fill="#111111" stroke="#111111" stroke-width="0.08" stroke-linejoin="round">A</text>
<text transform="translate(531.61,17.20) rotate(-89.95)" x="0.00" font-size="8.7" fill="#111111" stroke="#111111" stroke-width="0.08" stroke-linejoin="round">39</text>
<text transform="translate(531.61,34.10) rotate(-89.95)" x="0.00" font-size="8.7" fill="#111111" stroke="#111111" stroke-width="0.08" stroke-linejoin="round">A</text>
<text transform="translate(542.23,17.20) rotate(-89.95)" x="0.00" font-size="8.7" fill="#111111" stroke="#111111" stroke-width="0.08" stroke-linejoin="round">10</text>
<text transform="translate(542.23,34.10) rotate(-89.95)" x="0.00" font-size="8.7" fill="#111111" stroke="#111111" stroke-width="0.08" stroke-linejoin="round">A</text>
<text transform="translate(552.85,17.20) rotate(-89.95)" x="0.00" font-size="8.7" fill="#111111" stroke="#111111" stroke-width="0.08" stroke-linejoin="round">48</text>
<text transform="translate(552.85,34.10) rotate(-89.95)" x="0.00" font-size="8.7" fill="#111111" stroke="#111111" stroke-width="0.08" stroke-linejoin="round">A</text>
<text transform="translate(563.47,17.20) rotate(-89.95)" x="0.00" font-size="8.7" fill="#111111" stroke="#111111" stroke-width="0.08" stroke-linejoin="round">37</text>
<text transform="translate(563.47,34.10) rotate(-89.95)" x="0.00" font-size="8.7" fill="#111111" stroke="#111111" stroke-width="0.08" stroke-linejoin="round">A</text>
<text transform="translate(574.09,17.20) rotate(-89.95)" x="0.00" font-size="8.7" fill="#111111" stroke="#111111" stroke-width="0.08" stroke-linejoin="round">10</text>
<text transform="translate(574.09,34.10) rotate(-89.95)" x="0.00" font-size="8.7" fill="#111111" stroke="#111111" stroke-width="0.08" stroke-linejoin="round">A</text>
<text transform="translate(584.71,17.20) rotate(-89.95)" x="0.00" font-size="8.7" fill="#111111" stroke="#111111" stroke-width="0.08" stroke-linejoin="round">48</text>
<text transform="translate(584.71,34.10) rotate(-89.95)" x="0.00" font-size="8.7" fill="#111111" stroke="#111111" stroke-width="0.08" stroke-linejoin="round">A</text>
<text transform="translate(595.33,17.20) rotate(-89.95)" x="0.00" font-size="8.7" fill="#111111" stroke="#111111" stroke-width="0.08" stroke-linejoin="round">39</text>
<text transform="translate(595.33,34.10) rotate(-89.95)" x="0.00" font-size="8.7" fill="#111111" stroke="#111111" stroke-width="0.08" stroke-linejoin="round">A</text>
<text transform="translate(605.95,17.20) rotate(-89.95)" x="0.00" font-size="8.7" fill="#111111" stroke="#111111" stroke-width="0.08" stroke-linejoin="round">10</text>
<text transform="translate(605.95,34.10) rotate(-89.95)" x="0.00" font-size="8.7" fill="#111111" stroke="#111111" stroke-width="0.08" stroke-linejoin="round">A</text>
<text transform="translate(616.57,17.20) rotate(-89.95)" x="0.00" font-size="8.7" fill="#111111" stroke="#111111" stroke-width="0.08" stroke-linejoin="round">47</text>
<text transform="translate(616.57,34.10) rotate(-89.95)" x="0.00" font-size="8.7" fill="#111111" stroke="#111111" stroke-width="0.08" stroke-linejoin="round">A</text>
<text transform="translate(627.19,17.20) rotate(-89.95)" x="0.00" font-size="8.7" fill="#111111" stroke="#111111" stroke-width="0.08" stroke-linejoin="round">38</text>
<text transform="translate(627.19,34.10) rotate(-89.95)" x="0.00" font-size="8.7" fill="#111111" stroke="#111111" stroke-width="0.08" stroke-linejoin="round">A</text>
<text transform="translate(637.81,17.20) rotate(-89.95)" x="0.00" font-size="8.7" fill="#111111" stroke="#111111" stroke-width="0.08" stroke-linejoin="round">10</text>
<text transform="translate(637.81,34.10) rotate(-89.95)" x="0.00" font-size="8.7" fill="#111111" stroke="#111111" stroke-width="0.08" stroke-linejoin="round">A</text>
<text transform="translate(648.43,17.20) rotate(-89.95)" x="0.00" font-size="8.7" fill="#111111" stroke="#111111" stroke-width="0.08" stroke-linejoin="round">44</text>
<text transform="translate(648.43,34.10) rotate(-89.95)" x="0.00" font-size="8.7" fill="#111111" stroke="#111111" stroke-width="0.08" stroke-linejoin="round">A</text>
<text transform="translate(659.05,17.20) rotate(-89.95)" x="0.00" font-size="8.7" fill="#111111" stroke="#111111" stroke-width="0.08" stroke-linejoin="round">38</text>
<text transform="translate(659.05,34.10) rotate(-89.95)" x="0.00" font-size="8.7" fill="#111111" stroke="#111111" stroke-width="0.08" stroke-linejoin="round">A</text>
<text transform="translate(669.67,17.20) rotate(-89.95)" x="0.00" font-size="8.7" fill="#111111" stroke="#111111" stroke-width="0.08" stroke-linejoin="round">10</text>
<text transform="translate(669.67,34.10) rotate(-89.95)" x="0.00" font-size="8.7" fill="#111111" stroke="#111111" stroke-width="0.08" stroke-linejoin="round">A</text>
<text transform="translate(521.52,177.40) rotate(-89.95)" x="-14.12" font-size="8.2" fill="#111111" stroke="#111111" stroke-width="0.12" stroke-linejoin="round">C/C</text>
<text transform="translate(532.14,177.40) rotate(-89.95)" x="-13.21" font-size="8.2" fill="#111111" stroke="#111111" stroke-width="0.12" stroke-linejoin="round">C/T</text>
<text transform="translate(542.76,177.40) rotate(-89.95)" x="-12.30" font-size="8.2" fill="#111111" stroke="#111111" stroke-width="0.12" stroke-linejoin="round">T/T</text>
<text transform="translate(553.38,177.40) rotate(-89.95)" x="-14.12" font-size="8.2" fill="#111111" stroke="#111111" stroke-width="0.12" stroke-linejoin="round">C/C</text>
<text transform="translate(564.00,177.40) rotate(-89.95)" x="-13.21" font-size="8.2" fill="#111111" stroke="#111111" stroke-width="0.12" stroke-linejoin="round">C/T</text>
<text transform="translate(574.62,177.40) rotate(-89.95)" x="-12.30" font-size="8.2" fill="#111111" stroke="#111111" stroke-width="0.12" stroke-linejoin="round">T/T</text>
<text transform="translate(585.24,177.40) rotate(-89.95)" x="-14.12" font-size="8.2" fill="#111111" stroke="#111111" stroke-width="0.12" stroke-linejoin="round">C/C</text>
<text transform="translate(595.86,177.40) rotate(-89.95)" x="-13.21" font-size="8.2" fill="#111111" stroke="#111111" stroke-width="0.12" stroke-linejoin="round">C/T</text>
<text transform="translate(606.48,177.40) rotate(-89.95)" x="-12.30" font-size="8.2" fill="#111111" stroke="#111111" stroke-width="0.12" stroke-linejoin="round">T/T</text>
<text transform="translate(617.10,177.40) rotate(-89.95)" x="-14.12" font-size="8.2" fill="#111111" stroke="#111111" stroke-width="0.12" stroke-linejoin="round">C/C</text>
<text transform="translate(627.72,177.40) rotate(-89.95)" x="-13.21" font-size="8.2" fill="#111111" stroke="#111111" stroke-width="0.12" stroke-linejoin="round">C/T</text>
<text transform="translate(638.34,177.40) rotate(-89.95)" x="-12.30" font-size="8.2" fill="#111111" stroke="#111111" stroke-width="0.12" stroke-linejoin="round">T/T</text>
<text transform="translate(648.96,177.40) rotate(-89.95)" x="-14.12" font-size="8.2" fill="#111111" stroke="#111111" stroke-width="0.12" stroke-linejoin="round">C/C</text>
<text transform="translate(659.58,177.40) rotate(-89.95)" x="-13.21" font-size="8.2" fill="#111111" stroke="#111111" stroke-width="0.12" stroke-linejoin="round">C/T</text>
<text transform="translate(670.20,177.40) rotate(-89.95)" x="-12.30" font-size="8.2" fill="#111111" stroke="#111111" stroke-width="0.12" stroke-linejoin="round">T/T</text>
<text transform="translate(480.10,99.85) rotate(-89.95)" x="-66.78" font-size="9.35" fill="#111111" stroke="#111111" stroke-width="0.22" stroke-linejoin="round">Ethylene Production (nL g<tspan font-size="6.6" dy="-4.40">−1</tspan><tspan dy="4.40"> h</tspan><tspan font-size="6.6" dy="-4.40">−1</tspan><tspan dy="4.40">)</tspan></text>
<text transform="translate(593.50,206.00) rotate(0.05)" x="-92.01" font-size="9.35" font-style="italic" fill="#111111" stroke="#111111" stroke-width="0.22" stroke-linejoin="round">MdACS3a<tspan font-style="normal"> (CAPS</tspan><tspan font-size="7.2" font-style="normal" dy="2.60">870</tspan><tspan font-style="normal" dy="-2.60">) allelotypes/Days Post-</tspan></text>
<text transform="translate(592.50,217.40) rotate(0.05)" x="-16.11" font-size="9.35" fill="#111111" stroke="#111111" stroke-width="0.22" stroke-linejoin="round">Harvest</text>
<text transform="translate(463.60,9.60) rotate(0.05)" x="0.00" font-size="12.5" font-weight="bold" fill="#000" stroke="#000" stroke-width="0.5" stroke-linejoin="round">c</text>
<line x1="52.7" y1="377.5" x2="207.7" y2="377.5" stroke="#dcdcdc" stroke-width="1"/>
<line x1="52.7" y1="361.5" x2="207.7" y2="361.5" stroke="#dcdcdc" stroke-width="1"/>
<line x1="52.7" y1="346.5" x2="207.7" y2="346.5" stroke="#dcdcdc" stroke-width="1"/>
<line x1="52.7" y1="331.5" x2="207.7" y2="331.5" stroke="#dcdcdc" stroke-width="1"/>
<line x1="52.7" y1="315.5" x2="207.7" y2="315.5" stroke="#dcdcdc" stroke-width="1"/>
<line x1="52.7" y1="300.5" x2="207.7" y2="300.5" stroke="#dcdcdc" stroke-width="1"/>
<line x1="52.7" y1="285.5" x2="207.7" y2="285.5" stroke="#dcdcdc" stroke-width="1"/>
<line x1="52.7" y1="269.5" x2="207.7" y2="269.5" stroke="#dcdcdc" stroke-width="1"/>
<line x1="52.7" y1="254.5" x2="207.7" y2="254.5" stroke="#dcdcdc" stroke-width="1"/>
<rect x="56.25" y="369.35" width="3.3" height="22.95" fill="#4F81BD"/>
<line x1="57.9" y1="369.35" x2="57.9" y2="368.74" stroke="#5a5a5a" stroke-width="0.8"/>
<line x1="55.8" y1="368.74" x2="60" y2="368.74" stroke="#5a5a5a" stroke-width="0.8"/>
<rect x="66.57" y="369.04" width="3.3" height="23.26" fill="#4F81BD"/>
<line x1="68.22" y1="369.04" x2="68.22" y2="368.43" stroke="#5a5a5a" stroke-width="0.8"/>
<line x1="66.12" y1="368.43" x2="70.32" y2="368.43" stroke="#5a5a5a" stroke-width="0.8"/>
<rect x="76.89" y="369.04" width="3.3" height="23.26" fill="#4F81BD"/>
<line x1="78.54" y1="369.04" x2="78.54" y2="367.51" stroke="#5a5a5a" stroke-width="0.8"/>
<line x1="76.44" y1="367.51" x2="80.64" y2="367.51" stroke="#5a5a5a" stroke-width="0.8"/>
<rect x="87.21" y="335.08" width="3.3" height="57.22" fill="#C0504D"/>
<line x1="88.86" y1="335.08" x2="88.86" y2="328.35" stroke="#5a5a5a" stroke-width="0.8"/>
<line x1="86.76" y1="328.35" x2="90.96" y2="328.35" stroke="#5a5a5a" stroke-width="0.8"/>
<rect x="97.53" y="367.82" width="3.3" height="24.48" fill="#C0504D"/>
<line x1="99.18" y1="367.82" x2="99.18" y2="359.56" stroke="#5a5a5a" stroke-width="0.8"/>
<line x1="97.08" y1="359.56" x2="101.28" y2="359.56" stroke="#5a5a5a" stroke-width="0.8"/>
<rect x="107.85" y="388.02" width="3.3" height="4.28" fill="#C0504D"/>
<line x1="109.5" y1="388.02" x2="109.5" y2="370.27" stroke="#5a5a5a" stroke-width="0.8"/>
<line x1="107.4" y1="370.27" x2="111.6" y2="370.27" stroke="#5a5a5a" stroke-width="0.8"/>
<rect x="118.17" y="305.7" width="3.3" height="86.6" fill="#9BBB59"/>
<line x1="119.82" y1="305.7" x2="119.82" y2="299.28" stroke="#5a5a5a" stroke-width="0.8"/>
<line x1="117.72" y1="299.28" x2="121.92" y2="299.28" stroke="#5a5a5a" stroke-width="0.8"/>
<rect x="128.49" y="342.42" width="3.3" height="49.88" fill="#9BBB59"/>
<line x1="130.14" y1="342.42" x2="130.14" y2="334.47" stroke="#5a5a5a" stroke-width="0.8"/>
<line x1="128.04" y1="334.47" x2="132.24" y2="334.47" stroke="#5a5a5a" stroke-width="0.8"/>
<rect x="138.81" y="377.92" width="3.3" height="14.38" fill="#9BBB59"/>
<line x1="140.46" y1="377.92" x2="140.46" y2="361.39" stroke="#5a5a5a" stroke-width="0.8"/>
<line x1="138.36" y1="361.39" x2="142.56" y2="361.39" stroke="#5a5a5a" stroke-width="0.8"/>
<rect x="149.13" y="281.22" width="3.3" height="111.08" fill="#8064A2"/>
<line x1="150.78" y1="281.22" x2="150.78" y2="274.18" stroke="#5a5a5a" stroke-width="0.8"/>
<line x1="148.68" y1="274.18" x2="152.88" y2="274.18" stroke="#5a5a5a" stroke-width="0.8"/>
<rect x="159.45" y="321.92" width="3.3" height="70.38" fill="#8064A2"/>
<line x1="161.1" y1="321.92" x2="161.1" y2="314.27" stroke="#5a5a5a" stroke-width="0.8"/>
<line x1="159" y1="314.27" x2="163.2" y2="314.27" stroke="#5a5a5a" stroke-width="0.8"/>
<rect x="169.77" y="357.42" width="3.3" height="34.88" fill="#8064A2"/>
<line x1="171.42" y1="357.42" x2="171.42" y2="340.28" stroke="#5a5a5a" stroke-width="0.8"/>
<line x1="169.32" y1="340.28" x2="173.52" y2="340.28" stroke="#5a5a5a" stroke-width="0.8"/>
<rect x="180.09" y="281.83" width="3.3" height="110.47" fill="#4BACC6"/>
<line x1="181.74" y1="281.83" x2="181.74" y2="275.41" stroke="#5a5a5a" stroke-width="0.8"/>
<line x1="179.64" y1="275.41" x2="183.84" y2="275.41" stroke="#5a5a5a" stroke-width="0.8"/>
<rect x="190.41" y="323.14" width="3.3" height="69.16" fill="#4BACC6"/>
<line x1="192.06" y1="323.14" x2="192.06" y2="315.19" stroke="#5a5a5a" stroke-width="0.8"/>
<line x1="189.96" y1="315.19" x2="194.16" y2="315.19" stroke="#5a5a5a" stroke-width="0.8"/>
<rect x="200.73" y="358.33" width="3.3" height="33.97" fill="#4BACC6"/>
<line x1="202.38" y1="358.33" x2="202.38" y2="342.42" stroke="#5a5a5a" stroke-width="0.8"/>
<line x1="200.28" y1="342.42" x2="204.48" y2="342.42" stroke="#5a5a5a" stroke-width="0.8"/>
<line x1="52.7" y1="392.3" x2="207.7" y2="392.3" stroke="#262626" stroke-width="1.1"/>
<text transform="translate(48.50,395.16) rotate(0.05)" x="-11.54" font-size="8.3" fill="#111111" stroke="#111111" stroke-width="0.12" stroke-linejoin="round">0.0</text>
<text transform="translate(48.50,379.86) rotate(0.05)" x="-11.54" font-size="8.3" fill="#111111" stroke="#111111" stroke-width="0.12" stroke-linejoin="round">5.0</text>
<text transform="translate(48.50,364.56) rotate(0.05)" x="-16.15" font-size="8.3" fill="#111111" stroke="#111111" stroke-width="0.12" stroke-linejoin="round">10.0</text>
<text transform="translate(48.50,349.26) rotate(0.05)" x="-16.15" font-size="8.3" fill="#111111" stroke="#111111" stroke-width="0.12" stroke-linejoin="round">15.0</text>
<text transform="translate(48.50,333.96) rotate(0.05)" x="-16.15" font-size="8.3" fill="#111111" stroke="#111111" stroke-width="0.12" stroke-linejoin="round">20.0</text>
<text transform="translate(48.50,318.66) rotate(0.05)" x="-16.15" font-size="8.3" fill="#111111" stroke="#111111" stroke-width="0.12" stroke-linejoin="round">25.0</text>
<text transform="translate(48.50,303.36) rotate(0.05)" x="-16.15" font-size="8.3" fill="#111111" stroke="#111111" stroke-width="0.12" stroke-linejoin="round">30.0</text>
<text transform="translate(48.50,288.06) rotate(0.05)" x="-16.15" font-size="8.3" fill="#111111" stroke="#111111" stroke-width="0.12" stroke-linejoin="round">35.0</text>
<text transform="translate(48.50,272.76) rotate(0.05)" x="-16.15" font-size="8.3" fill="#111111" stroke="#111111" stroke-width="0.12" stroke-linejoin="round">40.0</text>
<text transform="translate(48.50,257.46) rotate(0.05)" x="-16.15" font-size="8.3" fill="#111111" stroke="#111111" stroke-width="0.12" stroke-linejoin="round">45.0</text>
<text transform="translate(60.59,246.30) rotate(-89.95)" x="0.00" font-size="8.7" fill="#111111" stroke="#111111" stroke-width="0.08" stroke-linejoin="round">53</text>
<text transform="translate(60.59,261.50) rotate(-89.95)" x="0.00" font-size="8.7" fill="#111111" stroke="#111111" stroke-width="0.08" stroke-linejoin="round">A</text>
<text transform="translate(70.91,246.30) rotate(-89.95)" x="0.00" font-size="8.7" fill="#111111" stroke="#111111" stroke-width="0.08" stroke-linejoin="round">36</text>
<text transform="translate(70.91,261.50) rotate(-89.95)" x="0.00" font-size="8.7" fill="#111111" stroke="#111111" stroke-width="0.08" stroke-linejoin="round">A</text>
<text transform="translate(81.23,246.30) rotate(-89.95)" x="0.00" font-size="8.7" fill="#111111" stroke="#111111" stroke-width="0.08" stroke-linejoin="round">8</text>
<text transform="translate(81.23,261.50) rotate(-89.95)" x="0.00" font-size="8.7" fill="#111111" stroke="#111111" stroke-width="0.08" stroke-linejoin="round">A</text>
<text transform="translate(91.55,246.30) rotate(-89.95)" x="0.00" font-size="8.7" fill="#111111" stroke="#111111" stroke-width="0.08" stroke-linejoin="round">53</text>
<text transform="translate(91.55,261.50) rotate(-89.95)" x="0.00" font-size="8.7" fill="#111111" stroke="#111111" stroke-width="0.08" stroke-linejoin="round">A</text>
<text transform="translate(101.87,246.30) rotate(-89.95)" x="0.00" font-size="8.7" fill="#111111" stroke="#111111" stroke-width="0.08" stroke-linejoin="round">35</text>
<text transform="translate(101.87,261.50) rotate(-89.95)" x="0.00" font-size="8.7" fill="#111111" stroke="#111111" stroke-width="0.08" stroke-linejoin="round">B</text>
<text transform="translate(112.19,246.30) rotate(-89.95)" x="0.00" font-size="8.7" fill="#111111" stroke="#111111" stroke-width="0.08" stroke-linejoin="round">7</text>
<text transform="translate(112.19,261.50) rotate(-89.95)" x="0.00" font-size="8.7" fill="#111111" stroke="#111111" stroke-width="0.08" stroke-linejoin="round">B</text>
<text transform="translate(122.51,246.30) rotate(-89.95)" x="0.00" font-size="8.7" fill="#111111" stroke="#111111" stroke-width="0.08" stroke-linejoin="round">53</text>
<text transform="translate(122.51,261.50) rotate(-89.95)" x="0.00" font-size="8.7" fill="#111111" stroke="#111111" stroke-width="0.08" stroke-linejoin="round">A</text>
<text transform="translate(132.83,246.30) rotate(-89.95)" x="0.00" font-size="8.7" fill="#111111" stroke="#111111" stroke-width="0.08" stroke-linejoin="round">36</text>
<text transform="translate(132.83,261.50) rotate(-89.95)" x="0.00" font-size="8.7" fill="#111111" stroke="#111111" stroke-width="0.08" stroke-linejoin="round">B</text>
<text transform="translate(143.15,246.30) rotate(-89.95)" x="0.00" font-size="8.7" fill="#111111" stroke="#111111" stroke-width="0.08" stroke-linejoin="round">8</text>
<text transform="translate(143.15,261.50) rotate(-89.95)" x="0.00" font-size="8.7" fill="#111111" stroke="#111111" stroke-width="0.08" stroke-linejoin="round">B</text>
<text transform="translate(153.47,246.30) rotate(-89.95)" x="0.00" font-size="8.7" fill="#111111" stroke="#111111" stroke-width="0.08" stroke-linejoin="round">51</text>
<text transform="translate(153.47,261.50) rotate(-89.95)" x="0.00" font-size="8.7" fill="#111111" stroke="#111111" stroke-width="0.08" stroke-linejoin="round">A</text>
<text transform="translate(163.79,246.30) rotate(-89.95)" x="0.00" font-size="8.7" fill="#111111" stroke="#111111" stroke-width="0.08" stroke-linejoin="round">36</text>
<text transform="translate(163.79,261.50) rotate(-89.95)" x="0.00" font-size="8.7" fill="#111111" stroke="#111111" stroke-width="0.08" stroke-linejoin="round">B</text>
<text transform="translate(174.11,246.30) rotate(-89.95)" x="0.00" font-size="8.7" fill="#111111" stroke="#111111" stroke-width="0.08" stroke-linejoin="round">8</text>
<text transform="translate(174.11,261.50) rotate(-89.95)" x="0.00" font-size="8.7" fill="#111111" stroke="#111111" stroke-width="0.08" stroke-linejoin="round">B</text>
<text transform="translate(184.43,246.30) rotate(-89.95)" x="0.00" font-size="8.7" fill="#111111" stroke="#111111" stroke-width="0.08" stroke-linejoin="round">50</text>
<text transform="translate(184.43,261.50) rotate(-89.95)" x="0.00" font-size="8.7" fill="#111111" stroke="#111111" stroke-width="0.08" stroke-linejoin="round">A</text>
<text transform="translate(194.75,246.30) rotate(-89.95)" x="0.00" font-size="8.7" fill="#111111" stroke="#111111" stroke-width="0.08" stroke-linejoin="round">34</text>
<text transform="translate(194.75,261.50) rotate(-89.95)" x="0.00" font-size="8.7" fill="#111111" stroke="#111111" stroke-width="0.08" stroke-linejoin="round">B</text>
<text transform="translate(205.07,246.30) rotate(-89.95)" x="0.00" font-size="8.7" fill="#111111" stroke="#111111" stroke-width="0.08" stroke-linejoin="round">8</text>
<text transform="translate(205.07,261.50) rotate(-89.95)" x="0.00" font-size="8.7" fill="#111111" stroke="#111111" stroke-width="0.08" stroke-linejoin="round">B</text>
<text transform="translate(60.72,397.30) rotate(-89.95)" x="-35.55" font-size="8.2" fill="#111111" stroke="#111111" stroke-width="0.12" stroke-linejoin="round">ACS1-1/1</text>
<text transform="translate(71.04,397.30) rotate(-89.95)" x="-35.55" font-size="8.2" fill="#111111" stroke="#111111" stroke-width="0.12" stroke-linejoin="round">ACS1-1/2</text>
<text transform="translate(81.36,397.30) rotate(-89.95)" x="-35.55" font-size="8.2" fill="#111111" stroke="#111111" stroke-width="0.12" stroke-linejoin="round">ACS1-2/2</text>
<text transform="translate(91.68,397.30) rotate(-89.95)" x="-35.55" font-size="8.2" fill="#111111" stroke="#111111" stroke-width="0.12" stroke-linejoin="round">ACS1-1/1</text>
<text transform="translate(102.00,397.30) rotate(-89.95)" x="-35.55" font-size="8.2" fill="#111111" stroke="#111111" stroke-width="0.12" stroke-linejoin="round">ACS1-1/2</text>
<text transform="translate(112.32,397.30) rotate(-89.95)" x="-35.55" font-size="8.2" fill="#111111" stroke="#111111" stroke-width="0.12" stroke-linejoin="round">ACS1-2/2</text>
<text transform="translate(122.64,397.30) rotate(-89.95)" x="-35.55" font-size="8.2" fill="#111111" stroke="#111111" stroke-width="0.12" stroke-linejoin="round">ACS1-1/1</text>
<text transform="translate(132.96,397.30) rotate(-89.95)" x="-35.55" font-size="8.2" fill="#111111" stroke="#111111" stroke-width="0.12" stroke-linejoin="round">ACS1-1/2</text>
<text transform="translate(143.28,397.30) rotate(-89.95)" x="-35.55" font-size="8.2" fill="#111111" stroke="#111111" stroke-width="0.12" stroke-linejoin="round">ACS1-2/2</text>
<text transform="translate(153.60,397.30) rotate(-89.95)" x="-35.55" font-size="8.2" fill="#111111" stroke="#111111" stroke-width="0.12" stroke-linejoin="round">ACS1-1/1</text>
<text transform="translate(163.92,397.30) rotate(-89.95)" x="-35.55" font-size="8.2" fill="#111111" stroke="#111111" stroke-width="0.12" stroke-linejoin="round">ACS1-1/2</text>
<text transform="translate(174.24,397.30) rotate(-89.95)" x="-35.55" font-size="8.2" fill="#111111" stroke="#111111" stroke-width="0.12" stroke-linejoin="round">ACS1-2/2</text>
<text transform="translate(184.56,397.30) rotate(-89.95)" x="-35.55" font-size="8.2" fill="#111111" stroke="#111111" stroke-width="0.12" stroke-linejoin="round">ACS1-1/1</text>
<text transform="translate(194.88,397.30) rotate(-89.95)" x="-35.55" font-size="8.2" fill="#111111" stroke="#111111" stroke-width="0.12" stroke-linejoin="round">ACS1-1/2</text>
<text transform="translate(205.20,397.30) rotate(-89.95)" x="-35.55" font-size="8.2" fill="#111111" stroke="#111111" stroke-width="0.12" stroke-linejoin="round">ACS1-2/2</text>
<text transform="translate(13.40,321.50) rotate(-89.95)" x="-51.56" font-size="9.35" fill="#111111" stroke="#111111" stroke-width="0.22" stroke-linejoin="round">Firmness at d0 (kg cm<tspan font-size="6.6" dy="-4.90">−2</tspan><tspan dy="4.90">)</tspan></text>
<text transform="translate(23.40,324.10) rotate(-89.95)" x="-57.15" font-size="9.35" fill="#111111" stroke="#111111" stroke-width="0.22" stroke-linejoin="round">/Firmness loss at d5-20 (%)</text>
<text transform="translate(129.00,446.60) rotate(0.05)" x="-87.30" font-size="9.35" font-weight="bold" font-style="italic" fill="#111111" stroke="#111111" stroke-width="0.2" stroke-linejoin="round">MdACS1<tspan font-style="normal"> allelotypes/Days Post-Harvest</tspan></text>
<text transform="translate(3.30,239.70) rotate(0.05)" x="0.00" font-size="12.5" font-weight="bold" fill="#000" stroke="#000" stroke-width="0.5" stroke-linejoin="round">d</text>
<line x1="280.3" y1="393.5" x2="436" y2="393.5" stroke="#dcdcdc" stroke-width="1"/>
<line x1="280.3" y1="375.5" x2="436" y2="375.5" stroke="#dcdcdc" stroke-width="1"/>
<line x1="280.3" y1="357.5" x2="436" y2="357.5" stroke="#dcdcdc" stroke-width="1"/>
<line x1="280.3" y1="339.5" x2="436" y2="339.5" stroke="#dcdcdc" stroke-width="1"/>
<line x1="280.3" y1="321.5" x2="436" y2="321.5" stroke="#dcdcdc" stroke-width="1"/>
<line x1="280.3" y1="303.5" x2="436" y2="303.5" stroke="#dcdcdc" stroke-width="1"/>
<line x1="280.3" y1="285.5" x2="436" y2="285.5" stroke="#dcdcdc" stroke-width="1"/>
<line x1="280.3" y1="267.5" x2="436" y2="267.5" stroke="#dcdcdc" stroke-width="1"/>
<rect x="284.25" y="384.76" width="3.3" height="26.64" fill="#4F81BD"/>
<line x1="285.9" y1="384.76" x2="285.9" y2="384.4" stroke="#5a5a5a" stroke-width="0.8"/>
<line x1="283.8" y1="384.4" x2="288" y2="384.4" stroke="#5a5a5a" stroke-width="0.8"/>
<rect x="294.6" y="385.12" width="3.3" height="26.28" fill="#4F81BD"/>
<line x1="296.25" y1="385.12" x2="296.25" y2="383.68" stroke="#5a5a5a" stroke-width="0.8"/>
<line x1="294.15" y1="383.68" x2="298.35" y2="383.68" stroke="#5a5a5a" stroke-width="0.8"/>
<rect x="304.95" y="375.4" width="3.3" height="36" fill="#4F81BD"/>
<line x1="306.6" y1="375.4" x2="306.6" y2="372.16" stroke="#5a5a5a" stroke-width="0.8"/>
<line x1="304.5" y1="372.16" x2="308.7" y2="372.16" stroke="#5a5a5a" stroke-width="0.8"/>
<rect x="315.3" y="363.16" width="3.3" height="48.24" fill="#C0504D"/>
<line x1="316.95" y1="363.16" x2="316.95" y2="355.96" stroke="#5a5a5a" stroke-width="0.8"/>
<line x1="314.85" y1="355.96" x2="319.05" y2="355.96" stroke="#5a5a5a" stroke-width="0.8"/>
<rect x="325.65" y="350.92" width="3.3" height="60.48" fill="#C0504D"/>
<line x1="327.3" y1="350.92" x2="327.3" y2="336.16" stroke="#5a5a5a" stroke-width="0.8"/>
<line x1="325.2" y1="336.16" x2="329.4" y2="336.16" stroke="#5a5a5a" stroke-width="0.8"/>
<line x1="337.65" y1="411.4" x2="337.65" y2="381.16" stroke="#5a5a5a" stroke-width="0.8"/>
<line x1="335.55" y1="381.16" x2="339.75" y2="381.16" stroke="#5a5a5a" stroke-width="0.8"/>
<rect x="346.35" y="333.64" width="3.3" height="77.76" fill="#9BBB59"/>
<line x1="348" y1="333.64" x2="348" y2="326.08" stroke="#5a5a5a" stroke-width="0.8"/>
<line x1="345.9" y1="326.08" x2="350.1" y2="326.08" stroke="#5a5a5a" stroke-width="0.8"/>
<rect x="356.7" y="318.88" width="3.3" height="92.52" fill="#9BBB59"/>
<line x1="358.35" y1="318.88" x2="358.35" y2="304.12" stroke="#5a5a5a" stroke-width="0.8"/>
<line x1="356.25" y1="304.12" x2="360.45" y2="304.12" stroke="#5a5a5a" stroke-width="0.8"/>
<rect x="367.05" y="363.88" width="3.3" height="47.52" fill="#9BBB59"/>
<line x1="368.7" y1="363.88" x2="368.7" y2="332.92" stroke="#5a5a5a" stroke-width="0.8"/>
<line x1="366.6" y1="332.92" x2="370.8" y2="332.92" stroke="#5a5a5a" stroke-width="0.8"/>
<rect x="377.4" y="308.44" width="3.3" height="102.96" fill="#8064A2"/>
<line x1="379.05" y1="308.44" x2="379.05" y2="301.6" stroke="#5a5a5a" stroke-width="0.8"/>
<line x1="376.95" y1="301.6" x2="381.15" y2="301.6" stroke="#5a5a5a" stroke-width="0.8"/>
<rect x="387.75" y="291.16" width="3.3" height="120.24" fill="#8064A2"/>
<line x1="389.4" y1="291.16" x2="389.4" y2="276.4" stroke="#5a5a5a" stroke-width="0.8"/>
<line x1="387.3" y1="276.4" x2="391.5" y2="276.4" stroke="#5a5a5a" stroke-width="0.8"/>
<rect x="398.1" y="332.92" width="3.3" height="78.48" fill="#8064A2"/>
<line x1="399.75" y1="332.92" x2="399.75" y2="300.88" stroke="#5a5a5a" stroke-width="0.8"/>
<line x1="397.65" y1="300.88" x2="401.85" y2="300.88" stroke="#5a5a5a" stroke-width="0.8"/>
<rect x="408.45" y="307.36" width="3.3" height="104.04" fill="#4BACC6"/>
<line x1="410.1" y1="307.36" x2="410.1" y2="300.16" stroke="#5a5a5a" stroke-width="0.8"/>
<line x1="408" y1="300.16" x2="412.2" y2="300.16" stroke="#5a5a5a" stroke-width="0.8"/>
<rect x="418.8" y="304.84" width="3.3" height="106.56" fill="#4BACC6"/>
<line x1="420.45" y1="304.84" x2="420.45" y2="289.72" stroke="#5a5a5a" stroke-width="0.8"/>
<line x1="418.35" y1="289.72" x2="422.55" y2="289.72" stroke="#5a5a5a" stroke-width="0.8"/>
<rect x="429.15" y="310.96" width="3.3" height="100.44" fill="#4BACC6"/>
<line x1="430.8" y1="310.96" x2="430.8" y2="279.28" stroke="#5a5a5a" stroke-width="0.8"/>
<line x1="428.7" y1="279.28" x2="432.9" y2="279.28" stroke="#5a5a5a" stroke-width="0.8"/>
<line x1="280.3" y1="411.4" x2="436" y2="411.4" stroke="#262626" stroke-width="1.1"/>
<text transform="translate(275.80,414.26) rotate(0.05)" x="-11.54" font-size="8.3" fill="#111111" stroke="#111111" stroke-width="0.12" stroke-linejoin="round">0.0</text>
<text transform="translate(275.80,396.26) rotate(0.05)" x="-11.54" font-size="8.3" fill="#111111" stroke="#111111" stroke-width="0.12" stroke-linejoin="round">5.0</text>
<text transform="translate(275.80,378.26) rotate(0.05)" x="-16.15" font-size="8.3" fill="#111111" stroke="#111111" stroke-width="0.12" stroke-linejoin="round">10.0</text>
<text transform="translate(275.80,360.26) rotate(0.05)" x="-16.15" font-size="8.3" fill="#111111" stroke="#111111" stroke-width="0.12" stroke-linejoin="round">15.0</text>
<text transform="translate(275.80,342.26) rotate(0.05)" x="-16.15" font-size="8.3" fill="#111111" stroke="#111111" stroke-width="0.12" stroke-linejoin="round">20.0</text>
<text transform="translate(275.80,324.26) rotate(0.05)" x="-16.15" font-size="8.3" fill="#111111" stroke="#111111" stroke-width="0.12" stroke-linejoin="round">25.0</text>
<text transform="translate(275.80,306.26) rotate(0.05)" x="-16.15" font-size="8.3" fill="#111111" stroke="#111111" stroke-width="0.12" stroke-linejoin="round">30.0</text>
<text transform="translate(275.80,288.26) rotate(0.05)" x="-16.15" font-size="8.3" fill="#111111" stroke="#111111" stroke-width="0.12" stroke-linejoin="round">35.0</text>
<text transform="translate(275.80,270.26) rotate(0.05)" x="-16.15" font-size="8.3" fill="#111111" stroke="#111111" stroke-width="0.12" stroke-linejoin="round">40.0</text>
<text transform="translate(287.69,245.60) rotate(-89.95)" x="0.00" font-size="8.7" fill="#111111" stroke="#111111" stroke-width="0.08" stroke-linejoin="round">75</text>
<text transform="translate(287.69,261.30) rotate(-89.95)" x="0.00" font-size="8.7" fill="#111111" stroke="#111111" stroke-width="0.08" stroke-linejoin="round">B</text>
<text transform="translate(298.04,245.60) rotate(-89.95)" x="0.00" font-size="8.7" fill="#111111" stroke="#111111" stroke-width="0.08" stroke-linejoin="round">18</text>
<text transform="translate(298.04,261.30) rotate(-89.95)" x="0.00" font-size="8.7" fill="#111111" stroke="#111111" stroke-width="0.08" stroke-linejoin="round">B</text>
<text transform="translate(308.39,245.60) rotate(-89.95)" x="0.00" font-size="8.7" fill="#111111" stroke="#111111" stroke-width="0.08" stroke-linejoin="round">4</text>
<text transform="translate(308.39,261.30) rotate(-89.95)" x="0.00" font-size="8.7" fill="#111111" stroke="#111111" stroke-width="0.08" stroke-linejoin="round">A</text>
<text transform="translate(318.74,245.60) rotate(-89.95)" x="0.00" font-size="8.7" fill="#111111" stroke="#111111" stroke-width="0.08" stroke-linejoin="round">74</text>
<text transform="translate(318.74,261.30) rotate(-89.95)" x="0.00" font-size="8.7" fill="#111111" stroke="#111111" stroke-width="0.08" stroke-linejoin="round">A</text>
<text transform="translate(329.09,245.60) rotate(-89.95)" x="0.00" font-size="8.7" fill="#111111" stroke="#111111" stroke-width="0.08" stroke-linejoin="round">17</text>
<text transform="translate(329.09,261.30) rotate(-89.95)" x="0.00" font-size="8.7" fill="#111111" stroke="#111111" stroke-width="0.08" stroke-linejoin="round">A</text>
<text transform="translate(339.44,245.60) rotate(-89.95)" x="0.00" font-size="8.7" fill="#111111" stroke="#111111" stroke-width="0.08" stroke-linejoin="round">4</text>
<text transform="translate(339.44,261.30) rotate(-89.95)" x="0.00" font-size="8.7" fill="#111111" stroke="#111111" stroke-width="0.08" stroke-linejoin="round">A</text>
<text transform="translate(349.79,245.60) rotate(-89.95)" x="0.00" font-size="8.7" fill="#111111" stroke="#111111" stroke-width="0.08" stroke-linejoin="round">75</text>
<text transform="translate(349.79,261.30) rotate(-89.95)" x="0.00" font-size="8.7" fill="#111111" stroke="#111111" stroke-width="0.08" stroke-linejoin="round">A</text>
<text transform="translate(360.14,245.60) rotate(-89.95)" x="0.00" font-size="8.7" fill="#111111" stroke="#111111" stroke-width="0.08" stroke-linejoin="round">18</text>
<text transform="translate(360.14,261.30) rotate(-89.95)" x="0.00" font-size="8.7" fill="#111111" stroke="#111111" stroke-width="0.08" stroke-linejoin="round">A</text>
<text transform="translate(370.49,245.60) rotate(-89.95)" x="0.00" font-size="8.7" fill="#111111" stroke="#111111" stroke-width="0.08" stroke-linejoin="round">4</text>
<text transform="translate(370.49,261.30) rotate(-89.95)" x="0.00" font-size="8.7" fill="#111111" stroke="#111111" stroke-width="0.08" stroke-linejoin="round">A</text>
<text transform="translate(380.84,245.60) rotate(-89.95)" x="0.00" font-size="8.7" fill="#111111" stroke="#111111" stroke-width="0.08" stroke-linejoin="round">73</text>
<text transform="translate(380.84,261.30) rotate(-89.95)" x="0.00" font-size="8.7" fill="#111111" stroke="#111111" stroke-width="0.08" stroke-linejoin="round">A</text>
<text transform="translate(391.19,245.60) rotate(-89.95)" x="0.00" font-size="8.7" fill="#111111" stroke="#111111" stroke-width="0.08" stroke-linejoin="round">18</text>
<text transform="translate(391.19,261.30) rotate(-89.95)" x="0.00" font-size="8.7" fill="#111111" stroke="#111111" stroke-width="0.08" stroke-linejoin="round">A</text>
<text transform="translate(401.54,245.60) rotate(-89.95)" x="0.00" font-size="8.7" fill="#111111" stroke="#111111" stroke-width="0.08" stroke-linejoin="round">4</text>
<text transform="translate(401.54,261.30) rotate(-89.95)" x="0.00" font-size="8.7" fill="#111111" stroke="#111111" stroke-width="0.08" stroke-linejoin="round">A</text>
<text transform="translate(411.89,245.60) rotate(-89.95)" x="0.00" font-size="8.7" fill="#111111" stroke="#111111" stroke-width="0.08" stroke-linejoin="round">70</text>
<text transform="translate(411.89,261.30) rotate(-89.95)" x="0.00" font-size="8.7" fill="#111111" stroke="#111111" stroke-width="0.08" stroke-linejoin="round">A</text>
<text transform="translate(422.24,245.60) rotate(-89.95)" x="0.00" font-size="8.7" fill="#111111" stroke="#111111" stroke-width="0.08" stroke-linejoin="round">18</text>
<text transform="translate(422.24,261.30) rotate(-89.95)" x="0.00" font-size="8.7" fill="#111111" stroke="#111111" stroke-width="0.08" stroke-linejoin="round">A</text>
<text transform="translate(432.59,245.60) rotate(-89.95)" x="0.00" font-size="8.7" fill="#111111" stroke="#111111" stroke-width="0.08" stroke-linejoin="round">4</text>
<text transform="translate(432.59,261.30) rotate(-89.95)" x="0.00" font-size="8.7" fill="#111111" stroke="#111111" stroke-width="0.08" stroke-linejoin="round">A</text>
<text transform="translate(288.72,416.70) rotate(-89.95)" x="-15.03" font-size="8.2" fill="#111111" stroke="#111111" stroke-width="0.12" stroke-linejoin="round">G/G</text>
<text transform="translate(299.07,416.70) rotate(-89.95)" x="-13.67" font-size="8.2" fill="#111111" stroke="#111111" stroke-width="0.12" stroke-linejoin="round">G/T</text>
<text transform="translate(309.42,416.70) rotate(-89.95)" x="-12.30" font-size="8.2" fill="#111111" stroke="#111111" stroke-width="0.12" stroke-linejoin="round">T/T</text>
<text transform="translate(319.77,416.70) rotate(-89.95)" x="-15.03" font-size="8.2" fill="#111111" stroke="#111111" stroke-width="0.12" stroke-linejoin="round">G/G</text>
<text transform="translate(330.12,416.70) rotate(-89.95)" x="-13.67" font-size="8.2" fill="#111111" stroke="#111111" stroke-width="0.12" stroke-linejoin="round">G/T</text>
<text transform="translate(340.47,416.70) rotate(-89.95)" x="-12.30" font-size="8.2" fill="#111111" stroke="#111111" stroke-width="0.12" stroke-linejoin="round">T/T</text>
<text transform="translate(350.82,416.70) rotate(-89.95)" x="-15.03" font-size="8.2" fill="#111111" stroke="#111111" stroke-width="0.12" stroke-linejoin="round">G/G</text>
<text transform="translate(361.17,416.70) rotate(-89.95)" x="-13.67" font-size="8.2" fill="#111111" stroke="#111111" stroke-width="0.12" stroke-linejoin="round">G/T</text>
<text transform="translate(371.52,416.70) rotate(-89.95)" x="-12.30" font-size="8.2" fill="#111111" stroke="#111111" stroke-width="0.12" stroke-linejoin="round">T/T</text>
<text transform="translate(381.87,416.70) rotate(-89.95)" x="-15.03" font-size="8.2" fill="#111111" stroke="#111111" stroke-width="0.12" stroke-linejoin="round">G/G</text>
<text transform="translate(392.22,416.70) rotate(-89.95)" x="-13.67" font-size="8.2" fill="#111111" stroke="#111111" stroke-width="0.12" stroke-linejoin="round">G/T</text>
<text transform="translate(402.57,416.70) rotate(-89.95)" x="-12.30" font-size="8.2" fill="#111111" stroke="#111111" stroke-width="0.12" stroke-linejoin="round">T/T</text>
<text transform="translate(412.92,416.70) rotate(-89.95)" x="-15.03" font-size="8.2" fill="#111111" stroke="#111111" stroke-width="0.12" stroke-linejoin="round">G/G</text>
<text transform="translate(423.27,416.70) rotate(-89.95)" x="-13.67" font-size="8.2" fill="#111111" stroke="#111111" stroke-width="0.12" stroke-linejoin="round">G/T</text>
<text transform="translate(433.62,416.70) rotate(-89.95)" x="-12.30" font-size="8.2" fill="#111111" stroke="#111111" stroke-width="0.12" stroke-linejoin="round">T/T</text>
<text transform="translate(239.60,331.50) rotate(-89.95)" x="-51.56" font-size="9.35" fill="#111111" stroke="#111111" stroke-width="0.22" stroke-linejoin="round">Firmness at d0 (kg cm<tspan font-size="6.6" dy="-4.90">−2</tspan><tspan dy="4.90">)</tspan></text>
<text transform="translate(250.00,332.50) rotate(-89.95)" x="-57.15" font-size="9.35" fill="#111111" stroke="#111111" stroke-width="0.22" stroke-linejoin="round">/Firmness loss at d5-20 (%)</text>
<text transform="translate(358.00,444.70) rotate(0.05)" x="-92.01" font-size="9.35" font-style="italic" fill="#111111" stroke="#111111" stroke-width="0.22" stroke-linejoin="round">MdACS3a<tspan font-style="normal"> (CAPS</tspan><tspan font-size="7.2" font-style="normal" dy="2.60">866</tspan><tspan font-style="normal" dy="-2.60">) allelotypes/Days Post-</tspan></text>
<text transform="translate(357.00,455.90) rotate(0.05)" x="-16.11" font-size="9.35" fill="#111111" stroke="#111111" stroke-width="0.22" stroke-linejoin="round">Harvest</text>
<text transform="translate(229.40,239.90) rotate(0.05)" x="0.00" font-size="12.5" font-weight="bold" fill="#000" stroke="#000" stroke-width="0.5" stroke-linejoin="round">e</text>
<line x1="513.5" y1="392.5" x2="668.8" y2="392.5" stroke="#dcdcdc" stroke-width="1"/>
<line x1="513.5" y1="374.5" x2="668.8" y2="374.5" stroke="#dcdcdc" stroke-width="1"/>
<line x1="513.5" y1="356.5" x2="668.8" y2="356.5" stroke="#dcdcdc" stroke-width="1"/>
<line x1="513.5" y1="338.5" x2="668.8" y2="338.5" stroke="#dcdcdc" stroke-width="1"/>
<line x1="513.5" y1="320.5" x2="668.8" y2="320.5" stroke="#dcdcdc" stroke-width="1"/>
<line x1="513.5" y1="301.5" x2="668.8" y2="301.5" stroke="#dcdcdc" stroke-width="1"/>
<line x1="513.5" y1="283.5" x2="668.8" y2="283.5" stroke="#dcdcdc" stroke-width="1"/>
<line x1="513.5" y1="265.5" x2="668.8" y2="265.5" stroke="#dcdcdc" stroke-width="1"/>
<rect x="517.05" y="383.13" width="3.3" height="28.07" fill="#4F81BD"/>
<line x1="518.7" y1="383.13" x2="518.7" y2="382.4" stroke="#5a5a5a" stroke-width="0.8"/>
<line x1="516.6" y1="382.4" x2="520.8" y2="382.4" stroke="#5a5a5a" stroke-width="0.8"/>
<rect x="527.39" y="384.23" width="3.3" height="26.97" fill="#4F81BD"/>
<line x1="529.04" y1="384.23" x2="529.04" y2="383.86" stroke="#5a5a5a" stroke-width="0.8"/>
<line x1="526.94" y1="383.86" x2="531.14" y2="383.86" stroke="#5a5a5a" stroke-width="0.8"/>
<rect x="537.73" y="386.05" width="3.3" height="25.15" fill="#4F81BD"/>
<line x1="539.38" y1="386.05" x2="539.38" y2="383.5" stroke="#5a5a5a" stroke-width="0.8"/>
<line x1="537.28" y1="383.5" x2="541.48" y2="383.5" stroke="#5a5a5a" stroke-width="0.8"/>
<rect x="548.07" y="348.87" width="3.3" height="62.33" fill="#C0504D"/>
<line x1="549.72" y1="348.87" x2="549.72" y2="340.12" stroke="#5a5a5a" stroke-width="0.8"/>
<line x1="547.62" y1="340.12" x2="551.82" y2="340.12" stroke="#5a5a5a" stroke-width="0.8"/>
<rect x="558.41" y="376.21" width="3.3" height="34.99" fill="#C0504D"/>
<line x1="560.06" y1="376.21" x2="560.06" y2="366.37" stroke="#5a5a5a" stroke-width="0.8"/>
<line x1="557.96" y1="366.37" x2="562.16" y2="366.37" stroke="#5a5a5a" stroke-width="0.8"/>
<rect x="568.75" y="371.83" width="3.3" height="39.37" fill="#C0504D"/>
<line x1="570.4" y1="371.83" x2="570.4" y2="353.24" stroke="#5a5a5a" stroke-width="0.8"/>
<line x1="568.3" y1="353.24" x2="572.5" y2="353.24" stroke="#5a5a5a" stroke-width="0.8"/>
<rect x="579.09" y="323.72" width="3.3" height="87.48" fill="#9BBB59"/>
<line x1="580.74" y1="323.72" x2="580.74" y2="314.61" stroke="#5a5a5a" stroke-width="0.8"/>
<line x1="578.64" y1="314.61" x2="582.84" y2="314.61" stroke="#5a5a5a" stroke-width="0.8"/>
<rect x="589.43" y="331.37" width="3.3" height="79.83" fill="#9BBB59"/>
<line x1="591.08" y1="331.37" x2="591.08" y2="321.17" stroke="#5a5a5a" stroke-width="0.8"/>
<line x1="588.98" y1="321.17" x2="593.18" y2="321.17" stroke="#5a5a5a" stroke-width="0.8"/>
<rect x="599.77" y="367.1" width="3.3" height="44.1" fill="#9BBB59"/>
<line x1="601.42" y1="367.1" x2="601.42" y2="346.68" stroke="#5a5a5a" stroke-width="0.8"/>
<line x1="599.32" y1="346.68" x2="603.52" y2="346.68" stroke="#5a5a5a" stroke-width="0.8"/>
<rect x="610.11" y="292.74" width="3.3" height="118.46" fill="#8064A2"/>
<line x1="611.76" y1="292.74" x2="611.76" y2="283.62" stroke="#5a5a5a" stroke-width="0.8"/>
<line x1="609.66" y1="283.62" x2="613.86" y2="283.62" stroke="#5a5a5a" stroke-width="0.8"/>
<rect x="620.45" y="313.88" width="3.3" height="97.32" fill="#8064A2"/>
<line x1="622.1" y1="313.88" x2="622.1" y2="303.31" stroke="#5a5a5a" stroke-width="0.8"/>
<line x1="620" y1="303.31" x2="624.2" y2="303.31" stroke="#5a5a5a" stroke-width="0.8"/>
<rect x="630.79" y="328.82" width="3.3" height="82.38" fill="#8064A2"/>
<line x1="632.44" y1="328.82" x2="632.44" y2="308.41" stroke="#5a5a5a" stroke-width="0.8"/>
<line x1="630.34" y1="308.41" x2="634.54" y2="308.41" stroke="#5a5a5a" stroke-width="0.8"/>
<rect x="641.13" y="293.83" width="3.3" height="117.37" fill="#4BACC6"/>
<line x1="642.78" y1="293.83" x2="642.78" y2="284.72" stroke="#5a5a5a" stroke-width="0.8"/>
<line x1="640.68" y1="284.72" x2="644.88" y2="284.72" stroke="#5a5a5a" stroke-width="0.8"/>
<rect x="651.47" y="315.7" width="3.3" height="95.5" fill="#4BACC6"/>
<line x1="653.12" y1="315.7" x2="653.12" y2="305.13" stroke="#5a5a5a" stroke-width="0.8"/>
<line x1="651.02" y1="305.13" x2="655.22" y2="305.13" stroke="#5a5a5a" stroke-width="0.8"/>
<rect x="661.81" y="320.44" width="3.3" height="90.76" fill="#4BACC6"/>
<line x1="663.46" y1="320.44" x2="663.46" y2="301.12" stroke="#5a5a5a" stroke-width="0.8"/>
<line x1="661.36" y1="301.12" x2="665.56" y2="301.12" stroke="#5a5a5a" stroke-width="0.8"/>
<line x1="513.5" y1="411.2" x2="668.8" y2="411.2" stroke="#262626" stroke-width="1.1"/>
<text transform="translate(509.30,414.06) rotate(0.05)" x="-11.54" font-size="8.3" fill="#111111" stroke="#111111" stroke-width="0.12" stroke-linejoin="round">0.0</text>
<text transform="translate(509.30,395.83) rotate(0.05)" x="-11.54" font-size="8.3" fill="#111111" stroke="#111111" stroke-width="0.12" stroke-linejoin="round">5.0</text>
<text transform="translate(509.30,377.61) rotate(0.05)" x="-16.15" font-size="8.3" fill="#111111" stroke="#111111" stroke-width="0.12" stroke-linejoin="round">10.0</text>
<text transform="translate(509.30,359.38) rotate(0.05)" x="-16.15" font-size="8.3" fill="#111111" stroke="#111111" stroke-width="0.12" stroke-linejoin="round">15.0</text>
<text transform="translate(509.30,341.16) rotate(0.05)" x="-16.15" font-size="8.3" fill="#111111" stroke="#111111" stroke-width="0.12" stroke-linejoin="round">20.0</text>
<text transform="translate(509.30,322.93) rotate(0.05)" x="-16.15" font-size="8.3" fill="#111111" stroke="#111111" stroke-width="0.12" stroke-linejoin="round">25.0</text>
<text transform="translate(509.30,304.71) rotate(0.05)" x="-16.15" font-size="8.3" fill="#111111" stroke="#111111" stroke-width="0.12" stroke-linejoin="round">30.0</text>
<text transform="translate(509.30,286.48) rotate(0.05)" x="-16.15" font-size="8.3" fill="#111111" stroke="#111111" stroke-width="0.12" stroke-linejoin="round">35.0</text>
<text transform="translate(509.30,268.26) rotate(0.05)" x="-16.15" font-size="8.3" fill="#111111" stroke="#111111" stroke-width="0.12" stroke-linejoin="round">40.0</text>
<text transform="translate(520.79,245.90) rotate(-89.95)" x="0.00" font-size="8.7" fill="#111111" stroke="#111111" stroke-width="0.08" stroke-linejoin="round">48</text>
<text transform="translate(520.79,261.80) rotate(-89.95)" x="0.00" font-size="8.7" fill="#111111" stroke="#111111" stroke-width="0.08" stroke-linejoin="round">A</text>
<text transform="translate(531.13,245.90) rotate(-89.95)" x="0.00" font-size="8.7" fill="#111111" stroke="#111111" stroke-width="0.08" stroke-linejoin="round">39</text>
<text transform="translate(531.13,261.80) rotate(-89.95)" x="0.00" font-size="8.7" fill="#111111" stroke="#111111" stroke-width="0.08" stroke-linejoin="round">A</text>
<text transform="translate(541.47,245.90) rotate(-89.95)" x="0.00" font-size="8.7" fill="#111111" stroke="#111111" stroke-width="0.08" stroke-linejoin="round">10</text>
<text transform="translate(541.47,261.80) rotate(-89.95)" x="0.00" font-size="8.7" fill="#111111" stroke="#111111" stroke-width="0.08" stroke-linejoin="round">A</text>
<text transform="translate(551.81,245.90) rotate(-89.95)" x="0.00" font-size="8.7" fill="#111111" stroke="#111111" stroke-width="0.08" stroke-linejoin="round">48</text>
<text transform="translate(551.81,261.80) rotate(-89.95)" x="0.00" font-size="8.7" fill="#111111" stroke="#111111" stroke-width="0.08" stroke-linejoin="round">A</text>
<text transform="translate(562.15,245.90) rotate(-89.95)" x="0.00" font-size="8.7" fill="#111111" stroke="#111111" stroke-width="0.08" stroke-linejoin="round">37</text>
<text transform="translate(562.15,261.80) rotate(-89.95)" x="0.00" font-size="8.7" fill="#111111" stroke="#111111" stroke-width="0.08" stroke-linejoin="round">B</text>
<text transform="translate(572.49,245.90) rotate(-89.95)" x="0.00" font-size="8.7" fill="#111111" stroke="#111111" stroke-width="0.08" stroke-linejoin="round">10</text>
<text transform="translate(572.49,261.80) rotate(-89.95)" x="0.00" font-size="8.7" fill="#111111" stroke="#111111" stroke-width="0.08" stroke-linejoin="round">AB</text>
<text transform="translate(582.83,245.90) rotate(-89.95)" x="0.00" font-size="8.7" fill="#111111" stroke="#111111" stroke-width="0.08" stroke-linejoin="round">48</text>
<text transform="translate(582.83,261.80) rotate(-89.95)" x="0.00" font-size="8.7" fill="#111111" stroke="#111111" stroke-width="0.08" stroke-linejoin="round">A</text>
<text transform="translate(593.17,245.90) rotate(-89.95)" x="0.00" font-size="8.7" fill="#111111" stroke="#111111" stroke-width="0.08" stroke-linejoin="round">39</text>
<text transform="translate(593.17,261.80) rotate(-89.95)" x="0.00" font-size="8.7" fill="#111111" stroke="#111111" stroke-width="0.08" stroke-linejoin="round">AB</text>
<text transform="translate(603.51,245.90) rotate(-89.95)" x="0.00" font-size="8.7" fill="#111111" stroke="#111111" stroke-width="0.08" stroke-linejoin="round">10</text>
<text transform="translate(603.51,261.80) rotate(-89.95)" x="0.00" font-size="8.7" fill="#111111" stroke="#111111" stroke-width="0.08" stroke-linejoin="round">B</text>
<text transform="translate(613.85,245.90) rotate(-89.95)" x="0.00" font-size="8.7" fill="#111111" stroke="#111111" stroke-width="0.08" stroke-linejoin="round">47</text>
<text transform="translate(613.85,261.80) rotate(-89.95)" x="0.00" font-size="8.7" fill="#111111" stroke="#111111" stroke-width="0.08" stroke-linejoin="round">A</text>
<text transform="translate(624.19,245.90) rotate(-89.95)" x="0.00" font-size="8.7" fill="#111111" stroke="#111111" stroke-width="0.08" stroke-linejoin="round">38</text>
<text transform="translate(624.19,261.80) rotate(-89.95)" x="0.00" font-size="8.7" fill="#111111" stroke="#111111" stroke-width="0.08" stroke-linejoin="round">A</text>
<text transform="translate(634.53,245.90) rotate(-89.95)" x="0.00" font-size="8.7" fill="#111111" stroke="#111111" stroke-width="0.08" stroke-linejoin="round">10</text>
<text transform="translate(634.53,261.80) rotate(-89.95)" x="0.00" font-size="8.7" fill="#111111" stroke="#111111" stroke-width="0.08" stroke-linejoin="round">A</text>
<text transform="translate(644.87,245.90) rotate(-89.95)" x="0.00" font-size="8.7" fill="#111111" stroke="#111111" stroke-width="0.08" stroke-linejoin="round">44</text>
<text transform="translate(644.87,261.80) rotate(-89.95)" x="0.00" font-size="8.7" fill="#111111" stroke="#111111" stroke-width="0.08" stroke-linejoin="round">A</text>
<text transform="translate(655.21,245.90) rotate(-89.95)" x="0.00" font-size="8.7" fill="#111111" stroke="#111111" stroke-width="0.08" stroke-linejoin="round">38</text>
<text transform="translate(655.21,261.80) rotate(-89.95)" x="0.00" font-size="8.7" fill="#111111" stroke="#111111" stroke-width="0.08" stroke-linejoin="round">A</text>
<text transform="translate(665.55,245.90) rotate(-89.95)" x="0.00" font-size="8.7" fill="#111111" stroke="#111111" stroke-width="0.08" stroke-linejoin="round">10</text>
<text transform="translate(665.55,261.80) rotate(-89.95)" x="0.00" font-size="8.7" fill="#111111" stroke="#111111" stroke-width="0.08" stroke-linejoin="round">A</text>
<text transform="translate(521.52,416.70) rotate(-89.95)" x="-14.12" font-size="8.2" fill="#111111" stroke="#111111" stroke-width="0.12" stroke-linejoin="round">C/C</text>
<text transform="translate(531.86,416.70) rotate(-89.95)" x="-13.21" font-size="8.2" fill="#111111" stroke="#111111" stroke-width="0.12" stroke-linejoin="round">C/T</text>
<text transform="translate(542.20,416.70) rotate(-89.95)" x="-12.30" font-size="8.2" fill="#111111" stroke="#111111" stroke-width="0.12" stroke-linejoin="round">T/T</text>
<text transform="translate(552.54,416.70) rotate(-89.95)" x="-14.12" font-size="8.2" fill="#111111" stroke="#111111" stroke-width="0.12" stroke-linejoin="round">C/C</text>
<text transform="translate(562.88,416.70) rotate(-89.95)" x="-13.21" font-size="8.2" fill="#111111" stroke="#111111" stroke-width="0.12" stroke-linejoin="round">C/T</text>
<text transform="translate(573.22,416.70) rotate(-89.95)" x="-12.30" font-size="8.2" fill="#111111" stroke="#111111" stroke-width="0.12" stroke-linejoin="round">T/T</text>
<text transform="translate(583.56,416.70) rotate(-89.95)" x="-14.12" font-size="8.2" fill="#111111" stroke="#111111" stroke-width="0.12" stroke-linejoin="round">C/C</text>
<text transform="translate(593.90,416.70) rotate(-89.95)" x="-13.21" font-size="8.2" fill="#111111" stroke="#111111" stroke-width="0.12" stroke-linejoin="round">C/T</text>
<text transform="translate(604.24,416.70) rotate(-89.95)" x="-12.30" font-size="8.2" fill="#111111" stroke="#111111" stroke-width="0.12" stroke-linejoin="round">T/T</text>
<text transform="translate(614.58,416.70) rotate(-89.95)" x="-14.12" font-size="8.2" fill="#111111" stroke="#111111" stroke-width="0.12" stroke-linejoin="round">C/C</text>
<text transform="translate(624.92,416.70) rotate(-89.95)" x="-13.21" font-size="8.2" fill="#111111" stroke="#111111" stroke-width="0.12" stroke-linejoin="round">C/T</text>
<text transform="translate(635.26,416.70) rotate(-89.95)" x="-12.30" font-size="8.2" fill="#111111" stroke="#111111" stroke-width="0.12" stroke-linejoin="round">T/T</text>
<text transform="translate(645.60,416.70) rotate(-89.95)" x="-14.12" font-size="8.2" fill="#111111" stroke="#111111" stroke-width="0.12" stroke-linejoin="round">C/C</text>
<text transform="translate(655.94,416.70) rotate(-89.95)" x="-13.21" font-size="8.2" fill="#111111" stroke="#111111" stroke-width="0.12" stroke-linejoin="round">C/T</text>
<text transform="translate(666.28,416.70) rotate(-89.95)" x="-12.30" font-size="8.2" fill="#111111" stroke="#111111" stroke-width="0.12" stroke-linejoin="round">T/T</text>
<text transform="translate(473.50,338.60) rotate(-89.95)" x="-51.56" font-size="9.35" fill="#111111" stroke="#111111" stroke-width="0.22" stroke-linejoin="round">Firmness at d0 (kg cm<tspan font-size="6.6" dy="-4.90">−2</tspan><tspan dy="4.90">)</tspan></text>
<text transform="translate(484.00,339.30) rotate(-89.95)" x="-57.15" font-size="9.35" fill="#111111" stroke="#111111" stroke-width="0.22" stroke-linejoin="round">/Firmness loss at d5-20 (%)</text>
<text transform="translate(590.90,444.70) rotate(0.05)" x="-92.01" font-size="9.35" font-style="italic" fill="#111111" stroke="#111111" stroke-width="0.22" stroke-linejoin="round">MdACS3a<tspan font-style="normal"> (CAPS</tspan><tspan font-size="7.2" font-style="normal" dy="2.60">870</tspan><tspan font-style="normal" dy="-2.60">) allelotypes/Days Post-</tspan></text>
<text transform="translate(589.90,455.90) rotate(0.05)" x="-16.11" font-size="9.35" fill="#111111" stroke="#111111" stroke-width="0.22" stroke-linejoin="round">Harvest</text>
<text transform="translate(464.10,239.70) rotate(0.05)" x="0.00" font-size="12.5" font-weight="bold" fill="#000" stroke="#000" stroke-width="0.5" stroke-linejoin="round">f</text>
</g>
</svg>
</body></html>
